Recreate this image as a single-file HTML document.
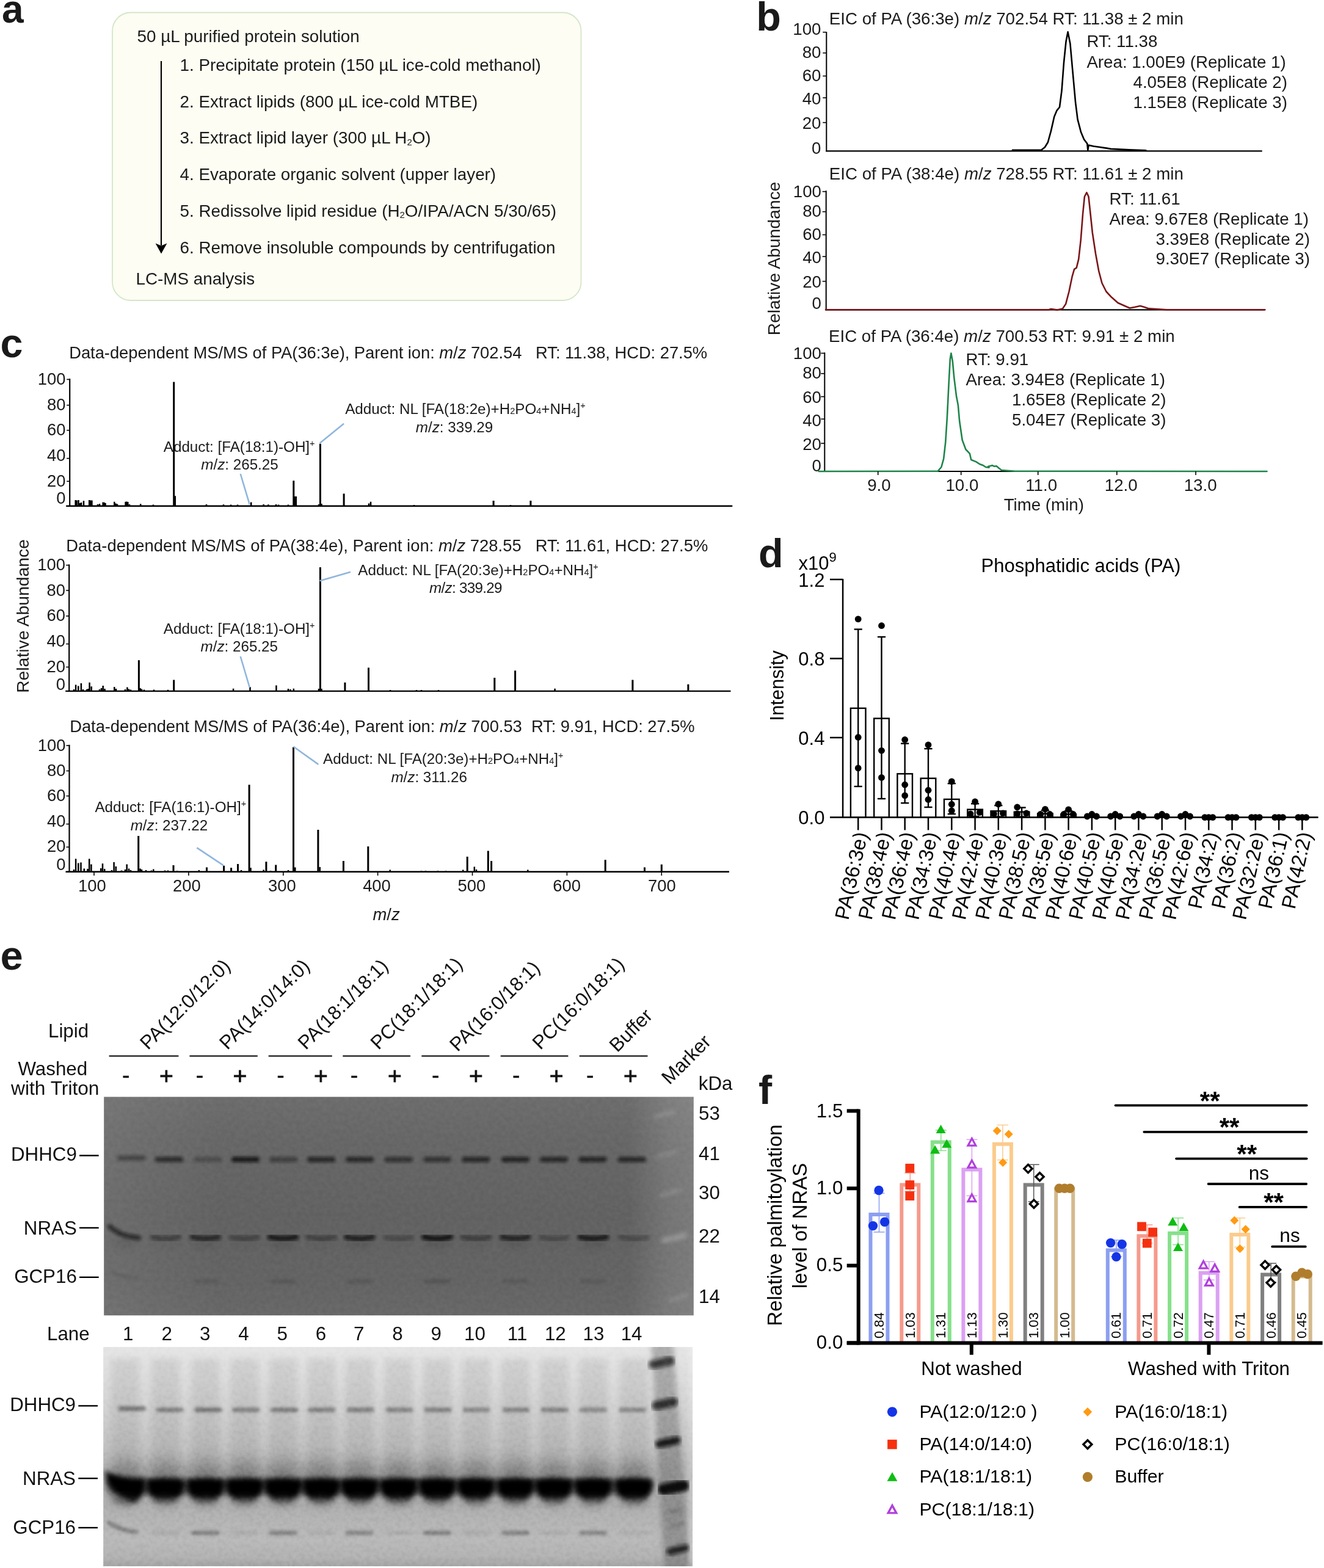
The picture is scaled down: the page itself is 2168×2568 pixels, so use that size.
<!DOCTYPE html>
<html lang="en"><head><meta charset="utf-8"><title>Figure</title>
<style>
html,body{margin:0;padding:0;background:#fff;}
body{width:2168px;height:2568px;overflow:hidden;font-family:"Liberation Sans",sans-serif;}
svg{display:block;}
text{font-family:"Liberation Sans",sans-serif;}
</style></head><body>
<svg width="2168" height="2568" viewBox="0 0 2168 2568">
<rect x="0" y="0" width="2168" height="2568" fill="#ffffff"/>
<text x="3.0" y="36.7" font-size="64" font-weight="bold" fill="#1a1a1a">a</text>
<rect x="184.0" y="20.5" width="767.5" height="471.5" fill="#fdfdf3" stroke="#d3e6c9" stroke-width="1.8" rx="30" ry="30"/>
<text x="224.5" y="69.0" font-size="27.8" fill="#1a1a1a">50 µL purified protein solution</text>
<text x="294.5" y="115.9" font-size="27.8" fill="#1a1a1a">1. Precipitate protein (150 µL ice-cold methanol)</text>
<text x="294.5" y="175.7" font-size="27.8" fill="#1a1a1a">2. Extract lipids (800 µL ice-cold MTBE)</text>
<text x="294.5" y="235.3" font-size="27.8" fill="#1a1a1a">3. Extract lipid layer (300 µL H<tspan font-size="15" dy="2.4">2</tspan><tspan dy="-2.4">O)</tspan></text>
<text x="294.5" y="295.2" font-size="27.8" fill="#1a1a1a">4. Evaporate organic solvent (upper layer)</text>
<text x="294.5" y="355.0" font-size="27.8" fill="#1a1a1a">5. Redissolve lipid residue (H<tspan font-size="15" dy="2.4">2</tspan><tspan dy="-2.4">O/IPA/ACN 5/30/65)</tspan></text>
<text x="294.5" y="414.8" font-size="27.8" fill="#1a1a1a">6. Remove insoluble compounds by centrifugation</text>
<text x="222.5" y="466.3" font-size="27.8" fill="#1a1a1a">LC-MS analysis</text>
<line x1="264.0" y1="100.0" x2="264.0" y2="402.0" stroke="#000" stroke-width="2.2" />
<path d="M254.6 398.5 L264 402.5 L273.4 398.5 L264 415.5 Z" fill="#000"/>
<text x="1238.3" y="50.0" font-size="66.5" font-weight="bold" fill="#1a1a1a">b</text>
<text x="1357.8" y="39.8" font-size="27.7" fill="#1a1a1a">EIC of PA (36:3e) <tspan font-style="italic">m</tspan>/<tspan font-style="italic">z</tspan> 702.54 RT: 11.38 ± 2 min</text>
<line x1="1353.3" y1="52.2" x2="1353.3" y2="248.3" stroke="#000" stroke-width="2" />
<line x1="1352.3" y1="247.3" x2="2066.7" y2="247.3" stroke="#000" stroke-width="2.2" />
<text x="1344.5" y="56.8" font-size="27.7" text-anchor="end" fill="#1a1a1a">100</text>
<text x="1344.5" y="94.6" font-size="27.7" text-anchor="end" fill="#1a1a1a">80</text>
<text x="1344.5" y="132.7" font-size="27.7" text-anchor="end" fill="#1a1a1a">60</text>
<text x="1344.5" y="171.0" font-size="27.7" text-anchor="end" fill="#1a1a1a">40</text>
<text x="1344.5" y="210.9" font-size="27.7" text-anchor="end" fill="#1a1a1a">20</text>
<text x="1344.5" y="251.7" font-size="27.7" text-anchor="end" fill="#1a1a1a">0</text>
<line x1="1347.3" y1="52.7" x2="1353.3" y2="52.7" stroke="#000" stroke-width="1.6" />
<line x1="1347.3" y1="86.7" x2="1353.3" y2="86.7" stroke="#000" stroke-width="1.6" />
<line x1="1347.3" y1="124.5" x2="1353.3" y2="124.5" stroke="#000" stroke-width="1.6" />
<line x1="1347.3" y1="160.2" x2="1353.3" y2="160.2" stroke="#000" stroke-width="1.6" />
<line x1="1347.3" y1="200.7" x2="1353.3" y2="200.7" stroke="#000" stroke-width="1.6" />
<polyline points="1657.9,245.9 1694.2,245.9 1705.4,245.5 1711.0,241.0 1715.9,233.0 1721.0,214.4 1726.3,191.0 1730.6,180.8 1735.0,175.5 1738.5,149.0 1742.0,102.5 1745.5,68.3 1748.6,52.2 1752.4,71.5 1757.7,130.5 1761.1,167.8 1764.6,195.7 1769.9,215.9 1775.0,228.3 1780.3,235.2 1781.3,246.0 1782.6,237.7 1790.5,239.5 1799.4,240.8 1811.8,242.6 1818.8,243.9 1849.9,245.4 1876.3,246.3" fill="none" stroke="#000" stroke-width="2.6" stroke-linejoin="round" stroke-linecap="round" />
<text x="1779.4" y="77.0" font-size="27.7" fill="#1a1a1a">RT: 11.38</text>
<text x="1779.4" y="110.9" font-size="27.7" fill="#1a1a1a">Area: 1.00E9 (Replicate 1)</text>
<text x="1855.5" y="144.1" font-size="27.7" fill="#1a1a1a">4.05E8 (Replicate 2)</text>
<text x="1855.5" y="177.4" font-size="27.7" fill="#1a1a1a">1.15E8 (Replicate 3)</text>
<text x="1357.8" y="294.0" font-size="27.7" fill="#1a1a1a">EIC of PA (38:4e) <tspan font-style="italic">m</tspan>/<tspan font-style="italic">z</tspan> 728.55 RT: 11.61 ± 2 min</text>
<line x1="1352.7" y1="312.2" x2="1352.7" y2="508.3" stroke="#000" stroke-width="2" />
<line x1="1351.7" y1="507.3" x2="2071.0" y2="507.3" stroke="#000" stroke-width="2.2" />
<text x="1345.0" y="323.0" font-size="27.7" text-anchor="end" fill="#1a1a1a">100</text>
<text x="1345.0" y="354.6" font-size="27.7" text-anchor="end" fill="#1a1a1a">80</text>
<text x="1345.0" y="392.7" font-size="27.7" text-anchor="end" fill="#1a1a1a">60</text>
<text x="1345.0" y="431.0" font-size="27.7" text-anchor="end" fill="#1a1a1a">40</text>
<text x="1345.0" y="470.9" font-size="27.7" text-anchor="end" fill="#1a1a1a">20</text>
<text x="1345.0" y="505.6" font-size="27.7" text-anchor="end" fill="#1a1a1a">0</text>
<line x1="1346.7" y1="313.7" x2="1352.7" y2="313.7" stroke="#000" stroke-width="1.6" />
<line x1="1346.7" y1="346.7" x2="1352.7" y2="346.7" stroke="#000" stroke-width="1.6" />
<line x1="1346.7" y1="384.5" x2="1352.7" y2="384.5" stroke="#000" stroke-width="1.6" />
<line x1="1346.7" y1="420.2" x2="1352.7" y2="420.2" stroke="#000" stroke-width="1.6" />
<line x1="1346.7" y1="460.7" x2="1352.7" y2="460.7" stroke="#000" stroke-width="1.6" />
<polyline points="1352.0,507.3 1717.5,507.3 1720.9,506.0 1731.4,507.6 1740.1,505.4 1745.2,497.7 1750.5,477.5 1755.7,452.6 1759.1,440.8 1762.7,438.6 1766.2,424.6 1769.7,393.6 1773.1,350.0 1775.9,322.0 1779.4,315.3 1782.5,322.0 1785.2,347.0 1788.8,381.0 1794.0,415.3 1799.1,443.3 1804.4,463.5 1811.4,477.5 1820.1,486.8 1830.5,496.0 1844.5,502.3 1849.9,504.5 1858.0,503.0 1867.0,501.0 1874.0,503.0 1881.0,505.4 1910.5,507.3 2071.4,507.3" fill="none" stroke="#7a1519" stroke-width="2.6" stroke-linejoin="round" stroke-linecap="round" />
<text x="1816.6" y="334.6" font-size="27.7" fill="#1a1a1a">RT: 11.61</text>
<text x="1816.6" y="367.8" font-size="27.7" fill="#1a1a1a">Area: 9.67E8 (Replicate 1)</text>
<text x="1892.5" y="400.7" font-size="27.7" fill="#1a1a1a">3.39E8 (Replicate 2)</text>
<text x="1892.5" y="433.3" font-size="27.7" fill="#1a1a1a">9.30E7 (Replicate 3)</text>
<text x="1357.0" y="559.8" font-size="27.7" fill="#1a1a1a">EIC of PA (36:4e) <tspan font-style="italic">m</tspan>/<tspan font-style="italic">z</tspan> 700.53 RT: 9.91 ± 2 min</text>
<line x1="1350.3" y1="577.3" x2="1350.3" y2="773.0" stroke="#000" stroke-width="2" />
<line x1="1349.3" y1="772.0" x2="2074.0" y2="772.0" stroke="#000" stroke-width="2.2" />
<text x="1345.0" y="588.0" font-size="27.7" text-anchor="end" fill="#1a1a1a">100</text>
<text x="1345.0" y="620.3" font-size="27.7" text-anchor="end" fill="#1a1a1a">80</text>
<text x="1345.0" y="659.5" font-size="27.7" text-anchor="end" fill="#1a1a1a">60</text>
<text x="1345.0" y="697.6" font-size="27.7" text-anchor="end" fill="#1a1a1a">40</text>
<text x="1345.0" y="736.7" font-size="27.7" text-anchor="end" fill="#1a1a1a">20</text>
<text x="1345.0" y="771.7" font-size="27.7" text-anchor="end" fill="#1a1a1a">0</text>
<line x1="1344.3" y1="578.5" x2="1350.3" y2="578.5" stroke="#000" stroke-width="1.6" />
<line x1="1344.3" y1="611.8" x2="1350.3" y2="611.8" stroke="#000" stroke-width="1.6" />
<line x1="1344.3" y1="649.6" x2="1350.3" y2="649.6" stroke="#000" stroke-width="1.6" />
<line x1="1344.3" y1="686.3" x2="1350.3" y2="686.3" stroke="#000" stroke-width="1.6" />
<line x1="1344.3" y1="726.1" x2="1350.3" y2="726.1" stroke="#000" stroke-width="1.6" />
<polyline points="1340.7,772.0 1535.7,771.7 1541.4,765.0 1545.2,751.3 1548.3,724.0 1550.9,683.3 1553.6,628.8 1555.8,588.0 1557.4,578.5 1559.8,591.4 1562.3,618.6 1566.1,649.3 1568.8,662.9 1571.2,690.0 1575.7,720.7 1581.4,736.0 1587.9,742.8 1590.2,753.0 1598.5,756.4 1604.0,760.0 1610.0,762.2 1614.1,765.0 1619.6,765.6 1618.0,764.0 1624.8,762.2 1628.0,763.8 1631.6,763.2 1636.0,767.0 1640.0,770.0 1662.2,771.7 2074.5,772.0" fill="none" stroke="#1e8449" stroke-width="2.6" stroke-linejoin="round" stroke-linecap="round" />
<text x="1581.6" y="597.6" font-size="27.7" fill="#1a1a1a">RT: 9.91</text>
<text x="1581.6" y="630.5" font-size="27.7" fill="#1a1a1a">Area: 3.94E8 (Replicate 1)</text>
<text x="1657.0" y="663.8" font-size="27.7" fill="#1a1a1a">1.65E8 (Replicate 2)</text>
<text x="1657.0" y="697.0" font-size="27.7" fill="#1a1a1a">5.04E7 (Replicate 3)</text>
<line x1="1437.7" y1="772.0" x2="1437.7" y2="778.0" stroke="#000" stroke-width="1.6" />
<text x="1439.4" y="804.0" font-size="27.7" text-anchor="middle" fill="#1a1a1a">9.0</text>
<line x1="1573.7" y1="772.0" x2="1573.7" y2="778.0" stroke="#000" stroke-width="1.6" />
<text x="1575.4" y="804.0" font-size="27.7" text-anchor="middle" fill="#1a1a1a">10.0</text>
<line x1="1699.7" y1="772.0" x2="1699.7" y2="778.0" stroke="#000" stroke-width="1.6" />
<text x="1705.2" y="804.0" font-size="27.7" text-anchor="middle" fill="#1a1a1a">11.0</text>
<line x1="1828.8" y1="772.0" x2="1828.8" y2="778.0" stroke="#000" stroke-width="1.6" />
<text x="1835.7" y="804.0" font-size="27.7" text-anchor="middle" fill="#1a1a1a">12.0</text>
<line x1="1958.0" y1="772.0" x2="1958.0" y2="778.0" stroke="#000" stroke-width="1.6" />
<text x="1965.6" y="804.0" font-size="27.7" text-anchor="middle" fill="#1a1a1a">13.0</text>
<text x="1709.3" y="836.3" font-size="27.7" text-anchor="middle" fill="#1a1a1a">Time (min)</text>
<text x="1276.8" y="423.5" font-size="28.3" text-anchor="middle" fill="#1a1a1a" transform="rotate(-90 1276.8 423.5)">Relative Abundance</text>
<text x="0.5" y="585.2" font-size="66.5" font-weight="bold" fill="#1a1a1a">c</text>
<text x="113.2" y="587" font-size="27.4" fill="#1a1a1a" xml:space="preserve" textLength="1045" lengthAdjust="spacing">Data-dependent MS/MS of PA(36:3e), Parent ion: <tspan font-style="italic">m</tspan>/<tspan font-style="italic">z</tspan> 702.54   RT: 11.38, HCD: 27.5%</text>
<line x1="114.2" y1="620.2" x2="114.2" y2="829.8" stroke="#000" stroke-width="2.2" />
<line x1="108.2" y1="828.8" x2="1199.3" y2="828.8" stroke="#000" stroke-width="2.4" />
<text x="107.5" y="630.2" font-size="27.4" text-anchor="end" fill="#1a1a1a">100</text>
<text x="107.5" y="671.7" font-size="27.4" text-anchor="end" fill="#1a1a1a">80</text>
<text x="107.5" y="712.8" font-size="27.4" text-anchor="end" fill="#1a1a1a">60</text>
<text x="107.5" y="755.0" font-size="27.4" text-anchor="end" fill="#1a1a1a">40</text>
<text x="107.5" y="797.1" font-size="27.4" text-anchor="end" fill="#1a1a1a">20</text>
<text x="107.5" y="825.3" font-size="27.4" text-anchor="end" fill="#1a1a1a">0</text>
<line x1="109.2" y1="621.4" x2="114.2" y2="621.4" stroke="#000" stroke-width="1.6" />
<line x1="109.2" y1="663.6" x2="114.2" y2="663.6" stroke="#000" stroke-width="1.6" />
<line x1="109.2" y1="704.7" x2="114.2" y2="704.7" stroke="#000" stroke-width="1.6" />
<line x1="109.2" y1="750.7" x2="114.2" y2="750.7" stroke="#000" stroke-width="1.6" />
<line x1="109.2" y1="788.3" x2="114.2" y2="788.3" stroke="#000" stroke-width="1.6" />
<path d="M284.7 828.8V625.6M480.8 828.8V787.3M524.4 828.8V726.8M563.1 828.8V808.4M808.1 828.8V820.0M868.9 828.8V820.0" stroke="#000" stroke-width="3.0" fill="none"/>
<path d="M286.8 828.8V812.2M483.2 828.8V813.0M484.8 828.8V813.0M123.7 828.8V819.0M125.5 828.8V819.5M128.5 828.8V819.0M131.0 828.8V824.0M133.0 828.8V823.0M137.0 828.8V820.3M146.2 828.8V819.0M148.5 828.8V819.5M150.4 828.8V819.5M160.0 828.8V826.0M163.0 828.8V825.0M168.7 828.8V822.4M171.0 828.8V823.0M172.5 828.8V824.0M187.3 828.8V821.7M189.5 828.8V824.5M192.0 828.8V825.5M205.6 828.8V821.7M207.5 828.8V821.5M209.3 828.8V822.0M212.0 828.8V826.0M230.2 828.8V825.2M251.0 828.8V826.5M338.0 828.8V826.0M366.0 828.8V826.3M378.0 828.8V826.5M389.0 828.8V826.5M411.2 828.8V822.4M431.6 828.8V826.0M439.4 828.8V826.3M452.0 828.8V826.0M456.0 828.8V826.5M472.0 828.8V826.5M522.0 828.8V826.0M526.5 828.8V825.0M604.0 828.8V824.5M607.0 828.8V821.7M678.0 828.8V827.0M836.0 828.8V827.0" stroke="#000" stroke-width="2.5" fill="none"/>
<line x1="393.7" y1="776.0" x2="408.8" y2="826.3" stroke="#8fb6dc" stroke-width="2.6" />
<line x1="523.7" y1="725.8" x2="563.1" y2="693.8" stroke="#8fb6dc" stroke-width="2.6" />
<text x="267.8" y="739.8" font-size="24.2" fill="#1a1a1a">Adduct: [FA(18:1)-OH]<tspan font-size="14.5" dy="-9">+</tspan></text>
<text x="329.3" y="769.0" font-size="24.2" fill="#1a1a1a"><tspan font-style="italic">m</tspan>/<tspan font-style="italic">z</tspan>: 265.25</text>
<text x="565.2" y="677.6" font-size="24.2" fill="#1a1a1a">Adduct: NL [FA(18:2e)+H<tspan font-size="14.5">2</tspan>PO<tspan font-size="14.5">4</tspan>+NH<tspan font-size="14.5">4</tspan>]<tspan font-size="14.5" dy="-9">+</tspan></text>
<text x="680.8" y="707.5" font-size="24.2" fill="#1a1a1a"><tspan font-style="italic">m</tspan>/<tspan font-style="italic">z</tspan>: 339.29</text>
<text x="108.3" y="902.7" font-size="27.4" fill="#1a1a1a" xml:space="preserve" textLength="1051" lengthAdjust="spacing">Data-dependent MS/MS of PA(38:4e), Parent ion: <tspan font-style="italic">m</tspan>/<tspan font-style="italic">z</tspan> 728.55   RT: 11.61, HCD: 27.5%</text>
<line x1="113.2" y1="924.4" x2="113.2" y2="1132.9" stroke="#000" stroke-width="2.2" />
<line x1="107.2" y1="1131.9" x2="1196.5" y2="1131.9" stroke="#000" stroke-width="2.4" />
<text x="107.0" y="934.4" font-size="27.4" text-anchor="end" fill="#1a1a1a">100</text>
<text x="107.0" y="975.5" font-size="27.4" text-anchor="end" fill="#1a1a1a">80</text>
<text x="107.0" y="1017.0" font-size="27.4" text-anchor="end" fill="#1a1a1a">60</text>
<text x="107.0" y="1059.1" font-size="27.4" text-anchor="end" fill="#1a1a1a">40</text>
<text x="107.0" y="1100.6" font-size="27.4" text-anchor="end" fill="#1a1a1a">20</text>
<text x="107.0" y="1129.8" font-size="27.4" text-anchor="end" fill="#1a1a1a">0</text>
<line x1="108.2" y1="925.6" x2="113.2" y2="925.6" stroke="#000" stroke-width="1.6" />
<line x1="108.2" y1="967.0" x2="113.2" y2="967.0" stroke="#000" stroke-width="1.6" />
<line x1="108.2" y1="1008.9" x2="113.2" y2="1008.9" stroke="#000" stroke-width="1.6" />
<line x1="108.2" y1="1054.6" x2="113.2" y2="1054.6" stroke="#000" stroke-width="1.6" />
<line x1="108.2" y1="1092.5" x2="113.2" y2="1092.5" stroke="#000" stroke-width="1.6" />
<path d="M227.4 1131.9V1081.3M284.7 1131.9V1113.6M524.4 1131.9V929.1M564.9 1131.9V1117.8M603.5 1131.9V1093.6M809.8 1131.9V1110.1M843.6 1131.9V1098.2M1035.9 1131.9V1113.6M1126.9 1131.9V1120.7" stroke="#000" stroke-width="3.0" fill="none"/>
<path d="M124.1 1131.9V1121.4M128.3 1131.9V1123.5M132.9 1131.9V1118.9M121.0 1131.9V1129.0M136.0 1131.9V1129.0M142.0 1131.9V1129.0M144.5 1131.9V1128.0M146.6 1131.9V1117.8M149.7 1131.9V1124.2M163.0 1131.9V1129.0M166.0 1131.9V1127.0M168.7 1131.9V1123.1M171.5 1131.9V1128.0M187.3 1131.9V1124.9M190.0 1131.9V1128.0M205.0 1131.9V1129.0M208.4 1131.9V1125.6M211.0 1131.9V1128.5M214.0 1131.9V1129.5M229.5 1131.9V1127.0M232.0 1131.9V1128.5M236.0 1131.9V1129.5M252.0 1131.9V1129.5M275.0 1131.9V1129.7M382.1 1131.9V1127.7M409.5 1131.9V1124.9M452.4 1131.9V1122.4M472.0 1131.9V1128.0M475.5 1131.9V1129.0M480.8 1131.9V1127.7M522.0 1131.9V1128.0M526.5 1131.9V1128.0M908.6 1131.9V1127.7M639.0 1131.9V1130.0M682.0 1131.9V1130.0M690.0 1131.9V1130.0M718.0 1131.9V1130.0" stroke="#000" stroke-width="2.5" fill="none"/>
<line x1="393.7" y1="1075.0" x2="408.8" y2="1126.0" stroke="#8fb6dc" stroke-width="2.6" />
<line x1="523.7" y1="951.2" x2="574.0" y2="936.8" stroke="#8fb6dc" stroke-width="2.6" />
<text x="267.8" y="1038.0" font-size="24.2" fill="#1a1a1a">Adduct: [FA(18:1)-OH]<tspan font-size="14.5" dy="-9">+</tspan></text>
<text x="328.6" y="1067.2" font-size="24.2" fill="#1a1a1a"><tspan font-style="italic">m</tspan>/<tspan font-style="italic">z</tspan>: 265.25</text>
<text x="586.3" y="942.0" font-size="24.2" fill="#1a1a1a">Adduct: NL [FA(20:3e)+H<tspan font-size="14.5">2</tspan>PO<tspan font-size="14.5">4</tspan>+NH<tspan font-size="14.5">4</tspan>]<tspan font-size="14.5" dy="-9">+</tspan></text>
<text x="703.0" y="971.3" font-size="24.2" fill="#1a1a1a" letter-spacing="-0.7"><tspan font-style="italic">m</tspan>/<tspan font-style="italic">z</tspan>: 339.29</text>
<text x="46.7" y="1009.0" font-size="28.3" text-anchor="middle" fill="#1a1a1a" transform="rotate(-90 46.7 1009.0)">Relative Abundance</text>
<text x="114.2" y="1199.2" font-size="27.4" fill="#1a1a1a" xml:space="preserve" textLength="1023.5" lengthAdjust="spacing">Data-dependent MS/MS of PA(36:4e), Parent ion: <tspan font-style="italic">m</tspan>/<tspan font-style="italic">z</tspan> 700.53  RT: 9.91, HCD: 27.5%</text>
<line x1="113.5" y1="1219.8" x2="113.5" y2="1428.7" stroke="#000" stroke-width="2.2" />
<line x1="107.5" y1="1427.7" x2="1194.0" y2="1427.7" stroke="#000" stroke-width="2.4" />
<text x="107.5" y="1229.8" font-size="27.4" text-anchor="end" fill="#1a1a1a">100</text>
<text x="107.5" y="1270.6" font-size="27.4" text-anchor="end" fill="#1a1a1a">80</text>
<text x="107.5" y="1312.4" font-size="27.4" text-anchor="end" fill="#1a1a1a">60</text>
<text x="107.5" y="1353.9" font-size="27.4" text-anchor="end" fill="#1a1a1a">40</text>
<text x="107.5" y="1395.3" font-size="27.4" text-anchor="end" fill="#1a1a1a">20</text>
<text x="107.5" y="1424.9" font-size="27.4" text-anchor="end" fill="#1a1a1a">0</text>
<line x1="108.5" y1="1221.0" x2="113.5" y2="1221.0" stroke="#000" stroke-width="1.6" />
<line x1="108.5" y1="1262.5" x2="113.5" y2="1262.5" stroke="#000" stroke-width="1.6" />
<line x1="108.5" y1="1303.6" x2="113.5" y2="1303.6" stroke="#000" stroke-width="1.6" />
<line x1="108.5" y1="1349.6" x2="113.5" y2="1349.6" stroke="#000" stroke-width="1.6" />
<line x1="108.5" y1="1387.3" x2="113.5" y2="1387.3" stroke="#000" stroke-width="1.6" />
<path d="M480.5 1427.7V1223.8M408.1 1427.7V1285.3M226.7 1427.7V1369.0M520.9 1427.7V1359.1M602.8 1427.7V1386.2M562.4 1427.7V1410.1M435.9 1427.7V1411.2M451.7 1427.7V1416.4M389.5 1427.7V1415.0M378.6 1427.7V1421.3M366.6 1427.7V1417.8M338.5 1427.7V1420.6M284.0 1427.7V1417.1M765.2 1427.7V1403.1M799.3 1427.7V1393.6M804.6 1427.7V1410.1M991.2 1427.7V1408.3M1055.5 1427.7V1420.6M1083.3 1427.7V1415.7" stroke="#000" stroke-width="3.0" fill="none"/>
<path d="M523.7 1427.7V1420.0M121.0 1427.7V1424.0M124.1 1427.7V1406.6M128.3 1427.7V1413.6M132.5 1427.7V1412.6M137.8 1427.7V1422.5M143.5 1427.7V1423.0M146.2 1427.7V1406.6M149.4 1427.7V1415.4M165.2 1427.7V1422.0M168.0 1427.7V1414.3M171.2 1427.7V1423.0M183.0 1427.7V1425.0M186.6 1427.7V1411.9M189.8 1427.7V1418.9M199.0 1427.7V1425.5M205.0 1427.7V1424.0M207.7 1427.7V1415.4M211.0 1427.7V1422.5M214.0 1427.7V1425.0M229.5 1427.7V1422.5M232.0 1427.7V1424.0M239.0 1427.7V1425.0M248.0 1427.7V1425.5M251.3 1427.7V1423.5M270.0 1427.7V1425.5M275.0 1427.7V1425.5M290.0 1427.7V1426.0M325.8 1427.7V1424.9M395.0 1427.7V1425.0M410.5 1427.7V1421.3M431.6 1427.7V1424.5M443.0 1427.7V1426.0M472.0 1427.7V1425.0M483.3 1427.7V1420.6M638.7 1427.7V1424.5M758.2 1427.7V1424.5M776.8 1427.7V1419.6M780.0 1427.7V1424.0M864.3 1427.7V1424.5M690.0 1427.7V1426.3M697.0 1427.7V1426.0M717.0 1427.7V1426.0M730.0 1427.7V1426.3" stroke="#000" stroke-width="2.5" fill="none"/>
<line x1="322.3" y1="1388.3" x2="365.6" y2="1417.1" stroke="#8fb6dc" stroke-width="2.6" />
<line x1="480.5" y1="1222.8" x2="521.3" y2="1251.9" stroke="#8fb6dc" stroke-width="2.6" />
<text x="155.4" y="1330.3" font-size="24.2" fill="#1a1a1a">Adduct: [FA(16:1)-OH]<tspan font-size="14.5" dy="-9">+</tspan></text>
<text x="213.7" y="1359.8" font-size="24.2" fill="#1a1a1a"><tspan font-style="italic">m</tspan>/<tspan font-style="italic">z</tspan>: 237.22</text>
<text x="529.0" y="1250.9" font-size="24.2" fill="#1a1a1a">Adduct: NL [FA(20:3e)+H<tspan font-size="14.5">2</tspan>PO<tspan font-size="14.5">4</tspan>+NH<tspan font-size="14.5">4</tspan>]<tspan font-size="14.5" dy="-9">+</tspan></text>
<text x="640.4" y="1280.8" font-size="24.2" fill="#1a1a1a"><tspan font-style="italic">m</tspan>/<tspan font-style="italic">z</tspan>: 311.26</text>
<line x1="154.0" y1="1427.7" x2="154.0" y2="1434.0" stroke="#000" stroke-width="1.6" />
<text x="150.8" y="1460.4" font-size="27.4" text-anchor="middle" fill="#1a1a1a">100</text>
<line x1="308.9" y1="1427.7" x2="308.9" y2="1434.0" stroke="#000" stroke-width="1.6" />
<text x="305.8" y="1460.4" font-size="27.4" text-anchor="middle" fill="#1a1a1a">200</text>
<line x1="463.8" y1="1427.7" x2="463.8" y2="1434.0" stroke="#000" stroke-width="1.6" />
<text x="461.9" y="1460.4" font-size="27.4" text-anchor="middle" fill="#1a1a1a">300</text>
<line x1="618.6" y1="1427.7" x2="618.6" y2="1434.0" stroke="#000" stroke-width="1.6" />
<text x="617.0" y="1460.4" font-size="27.4" text-anchor="middle" fill="#1a1a1a">400</text>
<line x1="773.5" y1="1427.7" x2="773.5" y2="1434.0" stroke="#000" stroke-width="1.6" />
<text x="772.4" y="1460.4" font-size="27.4" text-anchor="middle" fill="#1a1a1a">500</text>
<line x1="928.4" y1="1427.7" x2="928.4" y2="1434.0" stroke="#000" stroke-width="1.6" />
<text x="928.1" y="1460.4" font-size="27.4" text-anchor="middle" fill="#1a1a1a">600</text>
<line x1="1083.3" y1="1427.7" x2="1083.3" y2="1434.0" stroke="#000" stroke-width="1.6" />
<text x="1083.8" y="1460.4" font-size="27.4" text-anchor="middle" fill="#1a1a1a">700</text>
<text x="610.5" y="1506.8" font-size="27.4" fill="#1a1a1a"><tspan font-style="italic">m</tspan>/<tspan font-style="italic">z</tspan></text>
<text x="1242.0" y="928.6" font-size="66.5" font-weight="bold" fill="#1a1a1a">d</text>
<text x="1307.5" y="932.8" font-size="31" fill="#000">x10<tspan font-size="22" dy="-13">9</tspan></text>
<text x="1606.5" y="937.4" font-size="31" fill="#000">Phosphatidic acids (PA)</text>
<text x="1283.0" y="1123.0" font-size="31" text-anchor="middle" fill="#000" transform="rotate(-90 1283.0 1123.0)">Intensity</text>
<line x1="1380.1" y1="948.0" x2="1380.1" y2="1339.6" stroke="#000" stroke-width="2.5" />
<line x1="1359.0" y1="1338.6" x2="2158.4" y2="1338.6" stroke="#000" stroke-width="2.4" />
<line x1="1359.0" y1="949.0" x2="1380.1" y2="949.0" stroke="#000" stroke-width="2.5" />
<text x="1350.4" y="960.6" font-size="31" text-anchor="end" fill="#000">1.2</text>
<line x1="1359.0" y1="1078.5" x2="1380.1" y2="1078.5" stroke="#000" stroke-width="2.5" />
<text x="1350.4" y="1090.4" font-size="31" text-anchor="end" fill="#000">0.8</text>
<line x1="1359.0" y1="1208.0" x2="1380.1" y2="1208.0" stroke="#000" stroke-width="2.5" />
<text x="1350.4" y="1220.0" font-size="31" text-anchor="end" fill="#000">0.4</text>
<text x="1350.4" y="1349.8" font-size="31" text-anchor="end" fill="#000">0.0</text>
<line x1="1405.2" y1="1338.6" x2="1405.2" y2="1359.5" stroke="#000" stroke-width="2.5" />
<rect x="1392.9" y="1159.9" width="24.6" height="178.7" fill="#fff" stroke="#000" stroke-width="2.4" />
<line x1="1405.2" y1="1030.6" x2="1405.2" y2="1288.0" stroke="#000" stroke-width="2.4" />
<line x1="1398.6" y1="1030.6" x2="1411.8" y2="1030.6" stroke="#000" stroke-width="2.4" />
<line x1="1398.6" y1="1288.0" x2="1411.8" y2="1288.0" stroke="#000" stroke-width="2.4" />
<circle cx="1405.2" cy="1013.9" r="5.4" fill="#000"/>
<circle cx="1405.2" cy="1207.5" r="5.4" fill="#000"/>
<circle cx="1405.2" cy="1258.0" r="5.4" fill="#000"/>
<text x="1421.2" y="1365.5" font-size="33" text-anchor="end" fill="#000" transform="rotate(-77.3 1421.2 1365.5)">PA(36:3e)</text>
<line x1="1443.5" y1="1338.6" x2="1443.5" y2="1359.5" stroke="#000" stroke-width="2.5" />
<rect x="1431.2" y="1176.6" width="24.6" height="162.0" fill="#fff" stroke="#000" stroke-width="2.4" />
<line x1="1443.5" y1="1043.1" x2="1443.5" y2="1308.1" stroke="#000" stroke-width="2.4" />
<line x1="1436.9" y1="1043.1" x2="1450.1" y2="1043.1" stroke="#000" stroke-width="2.4" />
<line x1="1436.9" y1="1308.1" x2="1450.1" y2="1308.1" stroke="#000" stroke-width="2.4" />
<circle cx="1443.5" cy="1024.7" r="5.4" fill="#000"/>
<circle cx="1443.5" cy="1229.3" r="5.4" fill="#000"/>
<circle cx="1443.5" cy="1273.5" r="5.4" fill="#000"/>
<text x="1459.5" y="1365.5" font-size="33" text-anchor="end" fill="#000" transform="rotate(-77.3 1459.5 1365.5)">PA(38:4e)</text>
<line x1="1481.7" y1="1338.6" x2="1481.7" y2="1359.5" stroke="#000" stroke-width="2.5" />
<rect x="1469.4" y="1267.3" width="24.6" height="71.3" fill="#fff" stroke="#000" stroke-width="2.4" />
<line x1="1481.7" y1="1217.7" x2="1481.7" y2="1315.2" stroke="#000" stroke-width="2.4" />
<line x1="1475.1" y1="1217.7" x2="1488.3" y2="1217.7" stroke="#000" stroke-width="2.4" />
<line x1="1475.1" y1="1315.2" x2="1488.3" y2="1315.2" stroke="#000" stroke-width="2.4" />
<circle cx="1481.7" cy="1211.5" r="5.4" fill="#000"/>
<circle cx="1481.7" cy="1285.2" r="5.4" fill="#000"/>
<circle cx="1481.7" cy="1303.0" r="5.4" fill="#000"/>
<text x="1497.7" y="1365.5" font-size="33" text-anchor="end" fill="#000" transform="rotate(-77.3 1497.7 1365.5)">PA(36:4e)</text>
<line x1="1520.0" y1="1338.6" x2="1520.0" y2="1359.5" stroke="#000" stroke-width="2.5" />
<rect x="1507.7" y="1274.7" width="24.6" height="63.9" fill="#fff" stroke="#000" stroke-width="2.4" />
<line x1="1520.0" y1="1226.2" x2="1520.0" y2="1322.0" stroke="#000" stroke-width="2.4" />
<line x1="1513.4" y1="1226.2" x2="1526.6" y2="1226.2" stroke="#000" stroke-width="2.4" />
<line x1="1513.4" y1="1322.0" x2="1526.6" y2="1322.0" stroke="#000" stroke-width="2.4" />
<circle cx="1520.0" cy="1220.0" r="5.4" fill="#000"/>
<circle cx="1520.0" cy="1294.2" r="5.4" fill="#000"/>
<circle cx="1520.0" cy="1309.5" r="5.4" fill="#000"/>
<text x="1536.0" y="1365.5" font-size="33" text-anchor="end" fill="#000" transform="rotate(-77.3 1536.0 1365.5)">PA(34:3e)</text>
<line x1="1558.3" y1="1338.6" x2="1558.3" y2="1359.5" stroke="#000" stroke-width="2.5" />
<rect x="1546.0" y="1309.0" width="24.6" height="29.6" fill="#fff" stroke="#000" stroke-width="2.4" />
<line x1="1558.3" y1="1283.2" x2="1558.3" y2="1333.1" stroke="#000" stroke-width="2.4" />
<line x1="1551.7" y1="1283.2" x2="1564.9" y2="1283.2" stroke="#000" stroke-width="2.4" />
<line x1="1551.7" y1="1333.1" x2="1564.9" y2="1333.1" stroke="#000" stroke-width="2.4" />
<circle cx="1558.3" cy="1279.8" r="5.4" fill="#000"/>
<circle cx="1558.3" cy="1317.2" r="5.4" fill="#000"/>
<circle cx="1558.3" cy="1327.7" r="5.4" fill="#000"/>
<text x="1574.3" y="1365.5" font-size="33" text-anchor="end" fill="#000" transform="rotate(-77.3 1574.3 1365.5)">PA(40:4e)</text>
<line x1="1596.6" y1="1338.6" x2="1596.6" y2="1359.5" stroke="#000" stroke-width="2.5" />
<rect x="1584.3" y="1325.7" width="24.6" height="12.9" fill="#fff" stroke="#000" stroke-width="2.4" />
<line x1="1596.6" y1="1316.3" x2="1596.6" y2="1337.0" stroke="#000" stroke-width="2.4" />
<line x1="1590.0" y1="1316.3" x2="1603.2" y2="1316.3" stroke="#000" stroke-width="2.4" />
<line x1="1590.0" y1="1337.0" x2="1603.2" y2="1337.0" stroke="#000" stroke-width="2.4" />
<circle cx="1596.6" cy="1313.0" r="5.4" fill="#000"/>
<circle cx="1589.0" cy="1332.8" r="5.4" fill="#000"/>
<circle cx="1604.2" cy="1330.5" r="5.4" fill="#000"/>
<text x="1612.6" y="1365.5" font-size="33" text-anchor="end" fill="#000" transform="rotate(-77.3 1612.6 1365.5)">PA(42:4e)</text>
<line x1="1634.8" y1="1338.6" x2="1634.8" y2="1359.5" stroke="#000" stroke-width="2.5" />
<rect x="1622.5" y="1328.3" width="24.6" height="10.3" fill="#fff" stroke="#000" stroke-width="2.4" />
<line x1="1634.8" y1="1319.2" x2="1634.8" y2="1337.5" stroke="#000" stroke-width="2.4" />
<line x1="1628.2" y1="1319.2" x2="1641.4" y2="1319.2" stroke="#000" stroke-width="2.4" />
<line x1="1628.2" y1="1337.5" x2="1641.4" y2="1337.5" stroke="#000" stroke-width="2.4" />
<circle cx="1634.8" cy="1317.0" r="5.4" fill="#000"/>
<circle cx="1627.4" cy="1332.8" r="5.4" fill="#000"/>
<circle cx="1642.4" cy="1332.0" r="5.4" fill="#000"/>
<text x="1650.8" y="1365.5" font-size="33" text-anchor="end" fill="#000" transform="rotate(-77.3 1650.8 1365.5)">PA(40:3e)</text>
<line x1="1673.1" y1="1338.6" x2="1673.1" y2="1359.5" stroke="#000" stroke-width="2.5" />
<rect x="1660.8" y="1329.7" width="24.6" height="8.9" fill="#fff" stroke="#000" stroke-width="2.4" />
<line x1="1673.1" y1="1322.6" x2="1673.1" y2="1337.5" stroke="#000" stroke-width="2.4" />
<line x1="1666.5" y1="1322.6" x2="1679.7" y2="1322.6" stroke="#000" stroke-width="2.4" />
<line x1="1666.5" y1="1337.5" x2="1679.7" y2="1337.5" stroke="#000" stroke-width="2.4" />
<circle cx="1665.7" cy="1322.0" r="5.4" fill="#000"/>
<circle cx="1665.7" cy="1332.8" r="5.4" fill="#000"/>
<circle cx="1680.7" cy="1332.0" r="5.4" fill="#000"/>
<text x="1689.1" y="1365.5" font-size="33" text-anchor="end" fill="#000" transform="rotate(-77.3 1689.1 1365.5)">PA(38:5e)</text>
<line x1="1711.4" y1="1338.6" x2="1711.4" y2="1359.5" stroke="#000" stroke-width="2.5" />
<rect x="1699.1" y="1332.5" width="24.6" height="6.1" fill="#fff" stroke="#000" stroke-width="2.4" />
<line x1="1711.4" y1="1327.0" x2="1711.4" y2="1338.0" stroke="#000" stroke-width="2.4" />
<line x1="1704.8" y1="1327.0" x2="1718.0" y2="1327.0" stroke="#000" stroke-width="2.4" />
<line x1="1704.8" y1="1338.0" x2="1718.0" y2="1338.0" stroke="#000" stroke-width="2.4" />
<circle cx="1711.4" cy="1325.3" r="5.4" fill="#000"/>
<circle cx="1703.8" cy="1333.5" r="5.4" fill="#000"/>
<circle cx="1719.0" cy="1333.5" r="5.4" fill="#000"/>
<text x="1727.4" y="1365.5" font-size="33" text-anchor="end" fill="#000" transform="rotate(-77.3 1727.4 1365.5)">PA(38:5e)</text>
<line x1="1749.6" y1="1338.6" x2="1749.6" y2="1359.5" stroke="#000" stroke-width="2.5" />
<rect x="1737.3" y="1333.5" width="24.6" height="5.1" fill="#fff" stroke="#000" stroke-width="2.4" />
<line x1="1749.6" y1="1328.0" x2="1749.6" y2="1338.0" stroke="#000" stroke-width="2.4" />
<line x1="1743.0" y1="1328.0" x2="1756.2" y2="1328.0" stroke="#000" stroke-width="2.4" />
<line x1="1743.0" y1="1338.0" x2="1756.2" y2="1338.0" stroke="#000" stroke-width="2.4" />
<circle cx="1749.6" cy="1325.8" r="5.4" fill="#000"/>
<circle cx="1742.0" cy="1333.5" r="5.4" fill="#000"/>
<circle cx="1757.2" cy="1333.5" r="5.4" fill="#000"/>
<text x="1765.6" y="1365.5" font-size="33" text-anchor="end" fill="#000" transform="rotate(-77.3 1765.6 1365.5)">PA(40:6e)</text>
<line x1="1787.9" y1="1338.6" x2="1787.9" y2="1359.5" stroke="#000" stroke-width="2.5" />
<circle cx="1787.9" cy="1333.5" r="5.4" fill="#000"/>
<circle cx="1780.3" cy="1337.0" r="5.4" fill="#000"/>
<circle cx="1795.5" cy="1337.0" r="5.4" fill="#000"/>
<text x="1803.9" y="1365.5" font-size="33" text-anchor="end" fill="#000" transform="rotate(-77.3 1803.9 1365.5)">PA(40:5e)</text>
<line x1="1826.2" y1="1338.6" x2="1826.2" y2="1359.5" stroke="#000" stroke-width="2.5" />
<circle cx="1826.2" cy="1333.5" r="5.4" fill="#000"/>
<circle cx="1818.6" cy="1337.0" r="5.4" fill="#000"/>
<circle cx="1833.8" cy="1337.0" r="5.4" fill="#000"/>
<text x="1842.2" y="1365.5" font-size="33" text-anchor="end" fill="#000" transform="rotate(-77.3 1842.2 1365.5)">PA(40:5e)</text>
<line x1="1864.4" y1="1338.6" x2="1864.4" y2="1359.5" stroke="#000" stroke-width="2.5" />
<circle cx="1864.4" cy="1333.5" r="5.4" fill="#000"/>
<circle cx="1856.8" cy="1337.0" r="5.4" fill="#000"/>
<circle cx="1872.0" cy="1337.0" r="5.4" fill="#000"/>
<text x="1880.4" y="1365.5" font-size="33" text-anchor="end" fill="#000" transform="rotate(-77.3 1880.4 1365.5)">PA(34:2e)</text>
<line x1="1902.7" y1="1338.6" x2="1902.7" y2="1359.5" stroke="#000" stroke-width="2.5" />
<circle cx="1902.7" cy="1333.5" r="5.4" fill="#000"/>
<circle cx="1895.1" cy="1337.0" r="5.4" fill="#000"/>
<circle cx="1910.3" cy="1337.0" r="5.4" fill="#000"/>
<text x="1918.7" y="1365.5" font-size="33" text-anchor="end" fill="#000" transform="rotate(-77.3 1918.7 1365.5)">PA(36:5e)</text>
<line x1="1941.0" y1="1338.6" x2="1941.0" y2="1359.5" stroke="#000" stroke-width="2.5" />
<circle cx="1941.0" cy="1333.5" r="5.4" fill="#000"/>
<circle cx="1933.4" cy="1337.0" r="5.4" fill="#000"/>
<circle cx="1948.6" cy="1337.0" r="5.4" fill="#000"/>
<text x="1957.0" y="1365.5" font-size="33" text-anchor="end" fill="#000" transform="rotate(-77.3 1957.0 1365.5)">PA(42:6e)</text>
<line x1="1979.2" y1="1338.6" x2="1979.2" y2="1359.5" stroke="#000" stroke-width="2.5" />
<circle cx="1972.8" cy="1338.6" r="5.4" fill="#000"/>
<circle cx="1979.2" cy="1338.6" r="5.4" fill="#000"/>
<circle cx="1985.8" cy="1338.6" r="5.4" fill="#000"/>
<text x="1995.2" y="1365.5" font-size="33" text-anchor="end" fill="#000" transform="rotate(-77.3 1995.2 1365.5)">PA(34:2)</text>
<line x1="2017.5" y1="1338.6" x2="2017.5" y2="1359.5" stroke="#000" stroke-width="2.5" />
<circle cx="2011.0" cy="1338.6" r="5.4" fill="#000"/>
<circle cx="2017.5" cy="1338.6" r="5.4" fill="#000"/>
<circle cx="2024.0" cy="1338.6" r="5.4" fill="#000"/>
<text x="2033.5" y="1365.5" font-size="33" text-anchor="end" fill="#000" transform="rotate(-77.3 2033.5 1365.5)">PA(36:2)</text>
<line x1="2055.8" y1="1338.6" x2="2055.8" y2="1359.5" stroke="#000" stroke-width="2.5" />
<circle cx="2049.3" cy="1338.6" r="5.4" fill="#000"/>
<circle cx="2055.8" cy="1338.6" r="5.4" fill="#000"/>
<circle cx="2062.3" cy="1338.6" r="5.4" fill="#000"/>
<text x="2071.8" y="1365.5" font-size="33" text-anchor="end" fill="#000" transform="rotate(-77.3 2071.8 1365.5)">PA(32:2e)</text>
<line x1="2094.1" y1="1338.6" x2="2094.1" y2="1359.5" stroke="#000" stroke-width="2.5" />
<circle cx="2087.6" cy="1338.6" r="5.4" fill="#000"/>
<circle cx="2094.1" cy="1338.6" r="5.4" fill="#000"/>
<circle cx="2100.6" cy="1338.6" r="5.4" fill="#000"/>
<text x="2110.1" y="1365.5" font-size="33" text-anchor="end" fill="#000" transform="rotate(-77.3 2110.1 1365.5)">PA(36:1)</text>
<line x1="2132.3" y1="1338.6" x2="2132.3" y2="1359.5" stroke="#000" stroke-width="2.5" />
<circle cx="2125.8" cy="1338.6" r="5.4" fill="#000"/>
<circle cx="2132.3" cy="1338.6" r="5.4" fill="#000"/>
<circle cx="2138.8" cy="1338.6" r="5.4" fill="#000"/>
<text x="2148.3" y="1365.5" font-size="33" text-anchor="end" fill="#000" transform="rotate(-77.3 2148.3 1365.5)">PA(42:2)</text>
<line x1="1359.0" y1="1338.6" x2="2158.4" y2="1338.6" stroke="#000" stroke-width="2.4" />
<text x="0.5" y="1587.5" font-size="67" font-weight="bold" fill="#1a1a1a">e</text>
<text x="79.0" y="1699.2" font-size="31.3" fill="#111">Lipid</text>
<text x="86.3" y="1760.7" font-size="31.3" text-anchor="middle" fill="#111">Washed</text>
<text x="90.3" y="1792.8" font-size="31.7" text-anchor="middle" fill="#111">with Triton</text>
<text x="242.3" y="1720.6" font-size="31.7" fill="#111" transform="rotate(-45 242.3 1720.6)">PA(12:0/12:0)</text>
<text x="372.3" y="1720.6" font-size="31.7" fill="#111" transform="rotate(-45 372.3 1720.6)">PA(14:0/14:0)</text>
<text x="500.8" y="1720.6" font-size="31.7" fill="#111" transform="rotate(-45 500.8 1720.6)">PA(18:1/18:1)</text>
<text x="619.8" y="1720.6" font-size="31.7" fill="#111" transform="rotate(-45 619.8 1720.6)">PC(18:1/18:1)</text>
<text x="749.3" y="1723.6" font-size="31.7" fill="#111" transform="rotate(-45 749.3 1723.6)">PA(16:0/18:1)</text>
<text x="884.8" y="1720.6" font-size="31.7" fill="#111" transform="rotate(-45 884.8 1720.6)">PC(16:0/18:1)</text>
<text x="1010.8" y="1724.6" font-size="31.7" fill="#111" transform="rotate(-45 1010.8 1724.6)">Buffer</text>
<text x="1096.3" y="1777.6" font-size="31.7" fill="#111" transform="rotate(-45 1096.3 1777.6)">Marker</text>
<line x1="178.6" y1="1729.5" x2="292.4" y2="1729.5" stroke="#000" stroke-width="2" />
<line x1="310.4" y1="1729.5" x2="421.8" y2="1729.5" stroke="#000" stroke-width="2" />
<line x1="439.7" y1="1729.5" x2="543.8" y2="1729.5" stroke="#000" stroke-width="2" />
<line x1="561.3" y1="1729.5" x2="672.0" y2="1729.5" stroke="#000" stroke-width="2" />
<line x1="690.3" y1="1729.5" x2="801.4" y2="1729.5" stroke="#000" stroke-width="2" />
<line x1="819.7" y1="1729.5" x2="930.4" y2="1729.5" stroke="#000" stroke-width="2" />
<line x1="948.7" y1="1729.5" x2="1060.5" y2="1729.5" stroke="#000" stroke-width="2" />
<text x="206.3" y="1773.0" font-size="36" text-anchor="middle" fill="#111" stroke="#111" stroke-width="0.7">-</text>
<text x="326.9" y="1773.0" font-size="36" text-anchor="middle" fill="#111" stroke="#111" stroke-width="0.7">-</text>
<text x="459.4" y="1773.0" font-size="36" text-anchor="middle" fill="#111" stroke="#111" stroke-width="0.7">-</text>
<text x="580.0" y="1773.0" font-size="36" text-anchor="middle" fill="#111" stroke="#111" stroke-width="0.7">-</text>
<text x="713.2" y="1773.0" font-size="36" text-anchor="middle" fill="#111" stroke="#111" stroke-width="0.7">-</text>
<text x="845.3" y="1773.0" font-size="36" text-anchor="middle" fill="#111" stroke="#111" stroke-width="0.7">-</text>
<text x="966.3" y="1773.0" font-size="36" text-anchor="middle" fill="#111" stroke="#111" stroke-width="0.7">-</text>
<text x="272.4" y="1774.5" font-size="39" text-anchor="middle" fill="#111" stroke="#111" stroke-width="0.9">+</text>
<text x="393.0" y="1774.5" font-size="39" text-anchor="middle" fill="#111" stroke="#111" stroke-width="0.9">+</text>
<text x="525.5" y="1774.5" font-size="39" text-anchor="middle" fill="#111" stroke="#111" stroke-width="0.9">+</text>
<text x="646.4" y="1774.5" font-size="39" text-anchor="middle" fill="#111" stroke="#111" stroke-width="0.9">+</text>
<text x="779.3" y="1774.5" font-size="39" text-anchor="middle" fill="#111" stroke="#111" stroke-width="0.9">+</text>
<text x="911.1" y="1774.5" font-size="39" text-anchor="middle" fill="#111" stroke="#111" stroke-width="0.9">+</text>
<text x="1032.3" y="1774.5" font-size="39" text-anchor="middle" fill="#111" stroke="#111" stroke-width="0.9">+</text>
<text x="1143.8" y="1785.0" font-size="31.3" fill="#111">kDa</text>
<text x="1144.1" y="1833.5" font-size="31.3" fill="#111">53</text>
<text x="1144.1" y="1900.0" font-size="31.3" fill="#111">41</text>
<text x="1144.1" y="1964.3" font-size="31.3" fill="#111">30</text>
<text x="1144.1" y="2035.2" font-size="31.3" fill="#111">22</text>
<text x="1144.1" y="2134.2" font-size="31.3" fill="#111">14</text>
<text x="125.8" y="1900.6" font-size="31.3" text-anchor="end" fill="#111">DHHC9</text>
<line x1="130.0" y1="1892.5" x2="161.7" y2="1892.5" stroke="#000" stroke-width="2.4" />
<text x="125.8" y="2021.5" font-size="31.3" text-anchor="end" fill="#111">NRAS</text>
<line x1="130.0" y1="2010.9" x2="161.7" y2="2010.9" stroke="#000" stroke-width="2.4" />
<text x="125.8" y="2100.9" font-size="31.3" text-anchor="end" fill="#111">GCP16</text>
<line x1="130.0" y1="2091.8" x2="161.7" y2="2091.8" stroke="#000" stroke-width="2.4" />
<text x="124.0" y="2311.2" font-size="31.3" text-anchor="end" fill="#111">DHHC9</text>
<line x1="128.3" y1="2302.4" x2="160.0" y2="2302.4" stroke="#000" stroke-width="2.4" />
<text x="124.0" y="2431.7" font-size="31.3" text-anchor="end" fill="#111">NRAS</text>
<line x1="128.3" y1="2421.2" x2="160.0" y2="2421.2" stroke="#000" stroke-width="2.4" />
<text x="124.0" y="2511.5" font-size="31.3" text-anchor="end" fill="#111">GCP16</text>
<line x1="128.3" y1="2502.0" x2="160.0" y2="2502.0" stroke="#000" stroke-width="2.4" />
<text x="77.0" y="2194.5" font-size="31.3" fill="#111">Lane</text>
<text x="209.8" y="2194.5" font-size="31.3" text-anchor="middle" fill="#111">1</text>
<text x="273.1" y="2194.5" font-size="31.3" text-anchor="middle" fill="#111">2</text>
<text x="335.7" y="2194.5" font-size="31.3" text-anchor="middle" fill="#111">3</text>
<text x="398.9" y="2194.5" font-size="31.3" text-anchor="middle" fill="#111">4</text>
<text x="462.2" y="2194.5" font-size="31.3" text-anchor="middle" fill="#111">5</text>
<text x="525.5" y="2194.5" font-size="31.3" text-anchor="middle" fill="#111">6</text>
<text x="587.7" y="2194.5" font-size="31.3" text-anchor="middle" fill="#111">7</text>
<text x="651.0" y="2194.5" font-size="31.3" text-anchor="middle" fill="#111">8</text>
<text x="714.2" y="2194.5" font-size="31.3" text-anchor="middle" fill="#111">9</text>
<text x="777.5" y="2194.5" font-size="31.3" text-anchor="middle" fill="#111">10</text>
<text x="847.1" y="2194.5" font-size="31.3" text-anchor="middle" fill="#111">11</text>
<text x="909.3" y="2194.5" font-size="31.3" text-anchor="middle" fill="#111">12</text>
<text x="971.9" y="2194.5" font-size="31.3" text-anchor="middle" fill="#111">13</text>
<text x="1034.1" y="2194.5" font-size="31.3" text-anchor="middle" fill="#111">14</text>
<defs>
<clipPath id="g1clip"><rect x="170.1" y="1796.2" width="965.8" height="358.4"/></clipPath>
<clipPath id="g2clip"><rect x="169.1" y="2206.1" width="965.2" height="359.2"/></clipPath>
<linearGradient id="g1bg" x1="0" y1="0" x2="0" y2="1">
<stop offset="0" stop-color="#6d6d6d"/><stop offset="0.2" stop-color="#676767"/><stop offset="0.55" stop-color="#626262"/><stop offset="0.85" stop-color="#646464"/><stop offset="1" stop-color="#686868"/></linearGradient>
<linearGradient id="g1h" x1="0" y1="0" x2="1" y2="0">
<stop offset="0" stop-color="#fff" stop-opacity="0.07"/><stop offset="0.07" stop-color="#fff" stop-opacity="0.04"/><stop offset="0.2" stop-color="#fff" stop-opacity="0.0"/><stop offset="0.89" stop-color="#fff" stop-opacity="0.0"/><stop offset="0.955" stop-color="#fff" stop-opacity="0.12"/><stop offset="1" stop-color="#fff" stop-opacity="0.16"/></linearGradient>
<linearGradient id="g2bg" x1="0" y1="0" x2="0" y2="1">
<stop offset="0" stop-color="#e5e5e5"/><stop offset="0.15" stop-color="#dcdcdc"/><stop offset="0.33" stop-color="#cdcdcd"/><stop offset="0.45" stop-color="#c2c2c2"/><stop offset="0.55" stop-color="#b6b6b6"/><stop offset="0.75" stop-color="#b1b1b1"/><stop offset="0.88" stop-color="#b9b9b9"/><stop offset="0.96" stop-color="#b2b2b2"/><stop offset="1" stop-color="#a4a4a4"/></linearGradient>
<filter id="grain" x="0" y="0" width="100%" height="100%" color-interpolation-filters="sRGB"><feTurbulence type="fractalNoise" baseFrequency="0.14" numOctaves="2" seed="7"/><feColorMatrix type="matrix" values="2.2 0 0 0 -0.6  2.2 0 0 0 -0.6  2.2 0 0 0 -0.6  0 0 0 0 1"/></filter>
<filter id="b2" x="-30%" y="-150%" width="160%" height="400%"><feGaussianBlur stdDeviation="2.4"/></filter>
<filter id="b3" x="-30%" y="-150%" width="160%" height="400%"><feGaussianBlur stdDeviation="3.4"/></filter>
<filter id="b4" x="-30%" y="-100%" width="160%" height="300%"><feGaussianBlur stdDeviation="4.2"/></filter>
<filter id="b5" x="-30%" y="-100%" width="160%" height="300%"><feGaussianBlur stdDeviation="5.5"/></filter>
<filter id="b9" x="-40%" y="-100%" width="180%" height="300%"><feGaussianBlur stdDeviation="9"/></filter>
<filter id="b14" x="-50%" y="-100%" width="200%" height="300%"><feGaussianBlur stdDeviation="14"/></filter>
</defs>
<g clip-path="url(#g1clip)">
<rect x="170.1" y="1796.2" width="965.8" height="358.4" fill="url(#g1bg)" stroke="none" stroke-width="1" />
<rect x="170.1" y="1796.2" width="965.8" height="358.4" fill="url(#g1h)" stroke="none" stroke-width="1" />
<rect x="192.0" y="1892.3" width="46" height="8.4" rx="3.5" fill="#101010" opacity="0.42" filter="url(#b2)"/>
<rect x="254.0" y="1894.8" width="46" height="8.4" rx="3.5" fill="#101010" opacity="0.68" filter="url(#b2)"/>
<rect x="317.0" y="1894.8" width="46" height="8.4" rx="3.5" fill="#101010" opacity="0.30" filter="url(#b2)"/>
<rect x="379.0" y="1894.8" width="46" height="8.4" rx="3.5" fill="#101010" opacity="0.88" filter="url(#b2)"/>
<rect x="441.5" y="1894.8" width="46" height="8.4" rx="3.5" fill="#101010" opacity="0.45" filter="url(#b2)"/>
<rect x="503.0" y="1894.8" width="46" height="8.4" rx="3.5" fill="#101010" opacity="0.72" filter="url(#b2)"/>
<rect x="566.0" y="1894.8" width="46" height="8.4" rx="3.5" fill="#101010" opacity="0.72" filter="url(#b2)"/>
<rect x="629.7" y="1894.8" width="46" height="8.4" rx="3.5" fill="#101010" opacity="0.60" filter="url(#b2)"/>
<rect x="693.0" y="1894.8" width="46" height="8.4" rx="3.5" fill="#101010" opacity="0.60" filter="url(#b2)"/>
<rect x="756.3" y="1894.8" width="46" height="8.4" rx="3.5" fill="#101010" opacity="0.72" filter="url(#b2)"/>
<rect x="821.0" y="1894.8" width="46" height="8.4" rx="3.5" fill="#101010" opacity="0.78" filter="url(#b2)"/>
<rect x="884.0" y="1894.8" width="46" height="8.4" rx="3.5" fill="#101010" opacity="0.72" filter="url(#b2)"/>
<rect x="947.3" y="1894.8" width="46" height="8.4" rx="3.5" fill="#101010" opacity="0.75" filter="url(#b2)"/>
<rect x="1011.8" y="1894.8" width="46" height="8.4" rx="3.5" fill="#101010" opacity="0.72" filter="url(#b2)"/>
<path d="M180 2009 Q198 2025.5 227 2027" stroke="#0a0a0a" stroke-width="8" fill="none" opacity="0.66" filter="url(#b2)" stroke-linecap="round"/>
<ellipse cx="205.0" cy="2036.5" rx="22" ry="9" fill="#222" opacity="0.11" filter="url(#b5)"/>
<path d="M250.0 2025.9 Q271.0 2031.1 292.0 2025.9" stroke="#0a0a0a" stroke-width="9.8" fill="none" opacity="0.40" filter="url(#b2)" stroke-linecap="round"/>
<ellipse cx="271.0" cy="2036.5" rx="22" ry="9" fill="#222" opacity="0.06" filter="url(#b5)"/>
<path d="M315.5 2025.9 Q336.5 2031.1 357.5 2025.9" stroke="#0a0a0a" stroke-width="9.8" fill="none" opacity="0.66" filter="url(#b2)" stroke-linecap="round"/>
<ellipse cx="336.5" cy="2036.5" rx="22" ry="9" fill="#222" opacity="0.11" filter="url(#b5)"/>
<path d="M379.3 2025.9 Q400.3 2031.1 421.3 2025.9" stroke="#0a0a0a" stroke-width="9.8" fill="none" opacity="0.34" filter="url(#b2)" stroke-linecap="round"/>
<ellipse cx="400.3" cy="2036.5" rx="22" ry="9" fill="#222" opacity="0.05" filter="url(#b5)"/>
<path d="M442.6 2025.9 Q463.6 2031.1 484.6 2025.9" stroke="#0a0a0a" stroke-width="9.8" fill="none" opacity="0.82" filter="url(#b2)" stroke-linecap="round"/>
<ellipse cx="463.6" cy="2036.5" rx="22" ry="9" fill="#222" opacity="0.13" filter="url(#b5)"/>
<path d="M505.0 2025.9 Q526.0 2031.1 547.0 2025.9" stroke="#0a0a0a" stroke-width="9.8" fill="none" opacity="0.36" filter="url(#b2)" stroke-linecap="round"/>
<ellipse cx="526.0" cy="2036.5" rx="22" ry="9" fill="#222" opacity="0.06" filter="url(#b5)"/>
<path d="M567.7 2025.9 Q588.7 2031.1 609.7 2025.9" stroke="#0a0a0a" stroke-width="9.8" fill="none" opacity="0.75" filter="url(#b2)" stroke-linecap="round"/>
<ellipse cx="588.7" cy="2036.5" rx="22" ry="9" fill="#222" opacity="0.12" filter="url(#b5)"/>
<path d="M631.7 2025.9 Q652.7 2031.1 673.7 2025.9" stroke="#0a0a0a" stroke-width="9.8" fill="none" opacity="0.28" filter="url(#b2)" stroke-linecap="round"/>
<ellipse cx="652.7" cy="2036.5" rx="22" ry="9" fill="#222" opacity="0.04" filter="url(#b5)"/>
<path d="M695.0 2025.9 Q716.0 2031.1 737.0 2025.9" stroke="#0a0a0a" stroke-width="9.8" fill="none" opacity="0.88" filter="url(#b2)" stroke-linecap="round"/>
<ellipse cx="716.0" cy="2036.5" rx="22" ry="9" fill="#222" opacity="0.14" filter="url(#b5)"/>
<path d="M758.5 2025.9 Q779.5 2031.1 800.5 2025.9" stroke="#0a0a0a" stroke-width="9.8" fill="none" opacity="0.40" filter="url(#b2)" stroke-linecap="round"/>
<ellipse cx="779.5" cy="2036.5" rx="22" ry="9" fill="#222" opacity="0.06" filter="url(#b5)"/>
<path d="M822.8 2025.9 Q843.8 2031.1 864.8 2025.9" stroke="#0a0a0a" stroke-width="9.8" fill="none" opacity="0.70" filter="url(#b2)" stroke-linecap="round"/>
<ellipse cx="843.8" cy="2036.5" rx="22" ry="9" fill="#222" opacity="0.11" filter="url(#b5)"/>
<path d="M886.0 2025.9 Q907.0 2031.1 928.0 2025.9" stroke="#0a0a0a" stroke-width="9.8" fill="none" opacity="0.28" filter="url(#b2)" stroke-linecap="round"/>
<ellipse cx="907.0" cy="2036.5" rx="22" ry="9" fill="#222" opacity="0.04" filter="url(#b5)"/>
<path d="M950.5 2025.9 Q971.5 2031.1 992.5 2025.9" stroke="#0a0a0a" stroke-width="9.8" fill="none" opacity="0.80" filter="url(#b2)" stroke-linecap="round"/>
<ellipse cx="971.5" cy="2036.5" rx="22" ry="9" fill="#222" opacity="0.13" filter="url(#b5)"/>
<path d="M1017.0 2025.9 Q1038.0 2031.1 1059.0 2025.9" stroke="#0a0a0a" stroke-width="9.8" fill="none" opacity="0.28" filter="url(#b2)" stroke-linecap="round"/>
<ellipse cx="1038.0" cy="2036.5" rx="22" ry="9" fill="#222" opacity="0.04" filter="url(#b5)"/>
<path d="M180 2082 Q200 2092 226 2093.5" stroke="#222" stroke-width="5" fill="none" opacity="0.14" filter="url(#b2)"/>
<rect x="315.5" y="2095.5" width="42" height="6" rx="3" fill="#1a1a1a" opacity="0.15" filter="url(#b2)"/>
<rect x="442.6" y="2095.5" width="42" height="6" rx="3" fill="#1a1a1a" opacity="0.20" filter="url(#b2)"/>
<rect x="567.7" y="2095.5" width="42" height="6" rx="3" fill="#1a1a1a" opacity="0.18" filter="url(#b2)"/>
<rect x="695.0" y="2095.5" width="42" height="6" rx="3" fill="#1a1a1a" opacity="0.24" filter="url(#b2)"/>
<rect x="822.8" y="2095.5" width="42" height="6" rx="3" fill="#1a1a1a" opacity="0.17" filter="url(#b2)"/>
<rect x="950.5" y="2095.5" width="42" height="6" rx="3" fill="#1a1a1a" opacity="0.16" filter="url(#b2)"/>
<line x1="1072.8" y1="1829.4" x2="1102.8" y2="1821.4" stroke="#e8e8e8" stroke-width="7" stroke-linecap="round" opacity="0.16" filter="url(#b3)"/>
<line x1="1076.4" y1="1894.7" x2="1106.4" y2="1886.7" stroke="#e8e8e8" stroke-width="7" stroke-linecap="round" opacity="0.13" filter="url(#b3)"/>
<line x1="1082.7" y1="1957.3" x2="1112.7" y2="1949.3" stroke="#e8e8e8" stroke-width="6" stroke-linecap="round" opacity="0.18" filter="url(#b3)"/>
<line x1="1087.0" y1="2031.6" x2="1121.0" y2="2023.6" stroke="#e8e8e8" stroke-width="9.5" stroke-linecap="round" opacity="0.26" filter="url(#b3)"/>
<line x1="1097.3" y1="2129.6" x2="1125.3" y2="2121.6" stroke="#e8e8e8" stroke-width="6" stroke-linecap="round" opacity="0.16" filter="url(#b3)"/>
<rect x="170.1" y="1796.2" width="965.8" height="358.4" filter="url(#grain)" style="mix-blend-mode:soft-light" opacity="0.045"/>
</g>
<g clip-path="url(#g2clip)">
<rect x="169.1" y="2206.1" width="965.2" height="359.2" fill="url(#g2bg)" stroke="none" stroke-width="1" />
<rect x="182.0" y="2225" width="46" height="195" fill="#707070" opacity="0.15" filter="url(#b5)"/>
<rect x="248.0" y="2225" width="46" height="195" fill="#707070" opacity="0.15" filter="url(#b5)"/>
<rect x="313.5" y="2225" width="46" height="195" fill="#707070" opacity="0.15" filter="url(#b5)"/>
<rect x="377.3" y="2225" width="46" height="195" fill="#707070" opacity="0.15" filter="url(#b5)"/>
<rect x="440.6" y="2225" width="46" height="195" fill="#707070" opacity="0.15" filter="url(#b5)"/>
<rect x="503.0" y="2225" width="46" height="195" fill="#707070" opacity="0.15" filter="url(#b5)"/>
<rect x="565.7" y="2225" width="46" height="195" fill="#707070" opacity="0.15" filter="url(#b5)"/>
<rect x="629.7" y="2225" width="46" height="195" fill="#707070" opacity="0.15" filter="url(#b5)"/>
<rect x="693.0" y="2225" width="46" height="195" fill="#707070" opacity="0.15" filter="url(#b5)"/>
<rect x="756.5" y="2225" width="46" height="195" fill="#707070" opacity="0.15" filter="url(#b5)"/>
<rect x="820.8" y="2225" width="46" height="195" fill="#707070" opacity="0.15" filter="url(#b5)"/>
<rect x="884.0" y="2225" width="46" height="195" fill="#707070" opacity="0.15" filter="url(#b5)"/>
<rect x="948.5" y="2225" width="46" height="195" fill="#707070" opacity="0.15" filter="url(#b5)"/>
<rect x="1015.0" y="2225" width="46" height="195" fill="#707070" opacity="0.15" filter="url(#b5)"/>
<path d="M1066 2190 L1102 2190 L1130 2580 L1088 2580 Z" fill="#505050" opacity="0.36" filter="url(#b4)"/>
<rect x="1128" y="2200" width="12" height="370" fill="#fff" opacity="0.25" filter="url(#b4)"/>
<ellipse cx="205.0" cy="2424" rx="29" ry="30" fill="#303030" opacity="0.4" filter="url(#b14)"/>
<ellipse cx="271.0" cy="2424" rx="29" ry="30" fill="#303030" opacity="0.4" filter="url(#b14)"/>
<ellipse cx="336.5" cy="2424" rx="29" ry="30" fill="#303030" opacity="0.4" filter="url(#b14)"/>
<ellipse cx="400.3" cy="2424" rx="29" ry="30" fill="#303030" opacity="0.4" filter="url(#b14)"/>
<ellipse cx="463.6" cy="2424" rx="29" ry="30" fill="#303030" opacity="0.4" filter="url(#b14)"/>
<ellipse cx="526.0" cy="2424" rx="29" ry="30" fill="#303030" opacity="0.4" filter="url(#b14)"/>
<ellipse cx="588.7" cy="2424" rx="29" ry="30" fill="#303030" opacity="0.4" filter="url(#b14)"/>
<ellipse cx="652.7" cy="2424" rx="29" ry="30" fill="#303030" opacity="0.4" filter="url(#b14)"/>
<ellipse cx="716.0" cy="2424" rx="29" ry="30" fill="#303030" opacity="0.4" filter="url(#b14)"/>
<ellipse cx="779.5" cy="2424" rx="29" ry="30" fill="#303030" opacity="0.4" filter="url(#b14)"/>
<ellipse cx="843.8" cy="2424" rx="29" ry="30" fill="#303030" opacity="0.4" filter="url(#b14)"/>
<ellipse cx="907.0" cy="2424" rx="29" ry="30" fill="#303030" opacity="0.4" filter="url(#b14)"/>
<ellipse cx="971.5" cy="2424" rx="29" ry="30" fill="#303030" opacity="0.4" filter="url(#b14)"/>
<ellipse cx="1038.0" cy="2424" rx="29" ry="30" fill="#303030" opacity="0.4" filter="url(#b14)"/>
<rect x="193.5" y="2303.4" width="45" height="7.2" rx="3.5" fill="#3a3a3a" opacity="0.62" filter="url(#b2)"/>
<rect x="255.5" y="2305.4" width="45" height="7.2" rx="3.5" fill="#3a3a3a" opacity="0.52" filter="url(#b2)"/>
<rect x="318.5" y="2305.4" width="45" height="7.2" rx="3.5" fill="#3a3a3a" opacity="0.60" filter="url(#b2)"/>
<rect x="380.5" y="2305.4" width="45" height="7.2" rx="3.5" fill="#3a3a3a" opacity="0.52" filter="url(#b2)"/>
<rect x="443.0" y="2305.4" width="45" height="7.2" rx="3.5" fill="#3a3a3a" opacity="0.56" filter="url(#b2)"/>
<rect x="504.5" y="2305.4" width="45" height="7.2" rx="3.5" fill="#3a3a3a" opacity="0.52" filter="url(#b2)"/>
<rect x="567.5" y="2305.4" width="45" height="7.2" rx="3.5" fill="#3a3a3a" opacity="0.54" filter="url(#b2)"/>
<rect x="631.2" y="2305.4" width="45" height="7.2" rx="3.5" fill="#3a3a3a" opacity="0.50" filter="url(#b2)"/>
<rect x="694.5" y="2305.4" width="45" height="7.2" rx="3.5" fill="#3a3a3a" opacity="0.52" filter="url(#b2)"/>
<rect x="757.8" y="2305.4" width="45" height="7.2" rx="3.5" fill="#3a3a3a" opacity="0.46" filter="url(#b2)"/>
<rect x="822.5" y="2305.4" width="45" height="7.2" rx="3.5" fill="#3a3a3a" opacity="0.50" filter="url(#b2)"/>
<rect x="885.5" y="2305.4" width="45" height="7.2" rx="3.5" fill="#3a3a3a" opacity="0.50" filter="url(#b2)"/>
<rect x="948.8" y="2305.4" width="45" height="7.2" rx="3.5" fill="#3a3a3a" opacity="0.46" filter="url(#b2)"/>
<rect x="1013.3" y="2305.4" width="45" height="7.2" rx="3.5" fill="#3a3a3a" opacity="0.46" filter="url(#b2)"/>
<rect x="176" y="2424" width="890" height="24" rx="10" fill="#0a0a0a" opacity="0.55" filter="url(#b4)"/>
<path d="M172 2409 Q190 2417 210 2420 L238 2421 L237 2440 Q229 2457 219 2460 Q195 2455 175 2428 Z" fill="#030303" filter="url(#b4)"/>
<ellipse cx="205.0" cy="2456.0" rx="22" ry="9" fill="#1a1a1a" opacity="0.45" filter="url(#b5)"/>
<path d="M240.0 2423.0 Q271.0 2418.0 302.0 2423.0 L301.0 2439.0 Q294.0 2454.0 285.0 2455.0 L257.0 2455.0 Q248.0 2454.0 241.0 2439.0 Z" fill="#030303" filter="url(#b4)"/>
<ellipse cx="271.0" cy="2456.0" rx="22" ry="9" fill="#1a1a1a" opacity="0.45" filter="url(#b5)"/>
<path d="M305.5 2423.0 Q336.5 2418.0 367.5 2423.0 L366.5 2439.0 Q359.5 2454.0 350.5 2455.0 L322.5 2455.0 Q313.5 2454.0 306.5 2439.0 Z" fill="#030303" filter="url(#b4)"/>
<ellipse cx="336.5" cy="2456.0" rx="22" ry="9" fill="#1a1a1a" opacity="0.45" filter="url(#b5)"/>
<path d="M369.3 2423.0 Q400.3 2418.0 431.3 2423.0 L430.3 2439.0 Q423.3 2454.0 414.3 2455.0 L386.3 2455.0 Q377.3 2454.0 370.3 2439.0 Z" fill="#030303" filter="url(#b4)"/>
<ellipse cx="400.3" cy="2456.0" rx="22" ry="9" fill="#1a1a1a" opacity="0.45" filter="url(#b5)"/>
<path d="M432.6 2423.0 Q463.6 2418.0 494.6 2423.0 L493.6 2439.0 Q486.6 2454.0 477.6 2455.0 L449.6 2455.0 Q440.6 2454.0 433.6 2439.0 Z" fill="#030303" filter="url(#b4)"/>
<ellipse cx="463.6" cy="2456.0" rx="22" ry="9" fill="#1a1a1a" opacity="0.45" filter="url(#b5)"/>
<path d="M495.0 2423.0 Q526.0 2418.0 557.0 2423.0 L556.0 2439.0 Q549.0 2454.0 540.0 2455.0 L512.0 2455.0 Q503.0 2454.0 496.0 2439.0 Z" fill="#030303" filter="url(#b4)"/>
<ellipse cx="526.0" cy="2456.0" rx="22" ry="9" fill="#1a1a1a" opacity="0.45" filter="url(#b5)"/>
<path d="M557.7 2423.0 Q588.7 2418.0 619.7 2423.0 L618.7 2439.0 Q611.7 2454.0 602.7 2455.0 L574.7 2455.0 Q565.7 2454.0 558.7 2439.0 Z" fill="#030303" filter="url(#b4)"/>
<ellipse cx="588.7" cy="2456.0" rx="22" ry="9" fill="#1a1a1a" opacity="0.45" filter="url(#b5)"/>
<path d="M621.7 2423.0 Q652.7 2418.0 683.7 2423.0 L682.7 2439.0 Q675.7 2454.0 666.7 2455.0 L638.7 2455.0 Q629.7 2454.0 622.7 2439.0 Z" fill="#030303" filter="url(#b4)"/>
<ellipse cx="652.7" cy="2456.0" rx="22" ry="9" fill="#1a1a1a" opacity="0.45" filter="url(#b5)"/>
<path d="M685.0 2423.0 Q716.0 2418.0 747.0 2423.0 L746.0 2439.0 Q739.0 2454.0 730.0 2455.0 L702.0 2455.0 Q693.0 2454.0 686.0 2439.0 Z" fill="#030303" filter="url(#b4)"/>
<ellipse cx="716.0" cy="2456.0" rx="22" ry="9" fill="#1a1a1a" opacity="0.45" filter="url(#b5)"/>
<path d="M748.5 2423.0 Q779.5 2418.0 810.5 2423.0 L809.5 2439.0 Q802.5 2454.0 793.5 2455.0 L765.5 2455.0 Q756.5 2454.0 749.5 2439.0 Z" fill="#030303" filter="url(#b4)"/>
<ellipse cx="779.5" cy="2456.0" rx="22" ry="9" fill="#1a1a1a" opacity="0.45" filter="url(#b5)"/>
<path d="M812.8 2423.0 Q843.8 2418.0 874.8 2423.0 L873.8 2439.0 Q866.8 2454.0 857.8 2455.0 L829.8 2455.0 Q820.8 2454.0 813.8 2439.0 Z" fill="#030303" filter="url(#b4)"/>
<ellipse cx="843.8" cy="2456.0" rx="22" ry="9" fill="#1a1a1a" opacity="0.45" filter="url(#b5)"/>
<path d="M876.0 2423.0 Q907.0 2418.0 938.0 2423.0 L937.0 2439.0 Q930.0 2454.0 921.0 2455.0 L893.0 2455.0 Q884.0 2454.0 877.0 2439.0 Z" fill="#030303" filter="url(#b4)"/>
<ellipse cx="907.0" cy="2456.0" rx="22" ry="9" fill="#1a1a1a" opacity="0.45" filter="url(#b5)"/>
<path d="M940.5 2423.0 Q971.5 2418.0 1002.5 2423.0 L1001.5 2439.0 Q994.5 2454.0 985.5 2455.0 L957.5 2455.0 Q948.5 2454.0 941.5 2439.0 Z" fill="#030303" filter="url(#b4)"/>
<ellipse cx="971.5" cy="2456.0" rx="22" ry="9" fill="#1a1a1a" opacity="0.45" filter="url(#b5)"/>
<path d="M1007.0 2423.0 Q1038.0 2418.0 1069.0 2423.0 L1068.0 2439.0 Q1061.0 2454.0 1052.0 2455.0 L1024.0 2455.0 Q1015.0 2454.0 1008.0 2439.0 Z" fill="#030303" filter="url(#b4)"/>
<ellipse cx="1038.0" cy="2456.0" rx="22" ry="9" fill="#1a1a1a" opacity="0.45" filter="url(#b5)"/>
<path d="M176 2492 Q198 2508 226 2509" stroke="#404040" stroke-width="6" fill="none" opacity="0.50" filter="url(#b2)"/>
<rect x="248.0" y="2507.3" width="46" height="6.4" rx="3" fill="#404040" opacity="0.12" filter="url(#b2)"/>
<rect x="313.5" y="2507.3" width="46" height="6.4" rx="3" fill="#404040" opacity="0.50" filter="url(#b2)"/>
<rect x="377.3" y="2507.3" width="46" height="6.4" rx="3" fill="#404040" opacity="0.10" filter="url(#b2)"/>
<rect x="440.6" y="2507.3" width="46" height="6.4" rx="3" fill="#404040" opacity="0.50" filter="url(#b2)"/>
<rect x="503.0" y="2507.3" width="46" height="6.4" rx="3" fill="#404040" opacity="0.10" filter="url(#b2)"/>
<rect x="565.7" y="2507.3" width="46" height="6.4" rx="3" fill="#404040" opacity="0.48" filter="url(#b2)"/>
<rect x="629.7" y="2507.3" width="46" height="6.4" rx="3" fill="#404040" opacity="0.10" filter="url(#b2)"/>
<rect x="693.0" y="2507.3" width="46" height="6.4" rx="3" fill="#404040" opacity="0.50" filter="url(#b2)"/>
<rect x="756.5" y="2507.3" width="46" height="6.4" rx="3" fill="#404040" opacity="0.12" filter="url(#b2)"/>
<rect x="820.8" y="2507.3" width="46" height="6.4" rx="3" fill="#404040" opacity="0.50" filter="url(#b2)"/>
<rect x="884.0" y="2507.3" width="46" height="6.4" rx="3" fill="#404040" opacity="0.10" filter="url(#b2)"/>
<rect x="948.5" y="2507.3" width="46" height="6.4" rx="3" fill="#404040" opacity="0.46" filter="url(#b2)"/>
<rect x="1015.0" y="2507.3" width="46" height="6.4" rx="3" fill="#404040" opacity="0.08" filter="url(#b2)"/>
<line x1="1069.3" y1="2235.0" x2="1097.3" y2="2229.0" stroke="#0c0c0c" stroke-width="15" stroke-linecap="round" opacity="0.72" filter="url(#b3)"/>
<line x1="1074.6" y1="2302.0" x2="1102.6" y2="2296.0" stroke="#0c0c0c" stroke-width="15" stroke-linecap="round" opacity="0.78" filter="url(#b3)"/>
<line x1="1079.8" y1="2365.0" x2="1107.8" y2="2359.0" stroke="#0c0c0c" stroke-width="13.5" stroke-linecap="round" opacity="0.92" filter="url(#b3)"/>
<line x1="1086.6" y1="2439.0" x2="1118.6" y2="2433.0" stroke="#0c0c0c" stroke-width="20" stroke-linecap="round" opacity="1" filter="url(#b3)"/>
<line x1="1097.2" y1="2541.0" x2="1122.2" y2="2535.0" stroke="#0c0c0c" stroke-width="12" stroke-linecap="round" opacity="0.85" filter="url(#b3)"/>
<line x1="1094" y1="2478" x2="1118" y2="2472" stroke="#555" stroke-width="7" opacity="0.3" filter="url(#b3)"/>
<line x1="1096" y1="2500" x2="1120" y2="2494" stroke="#555" stroke-width="7" opacity="0.25" filter="url(#b3)"/>
<rect x="169.1" y="2206.1" width="965.2" height="359.2" filter="url(#grain)" style="mix-blend-mode:soft-light" opacity="0.10"/>
</g>
<text x="1242.0" y="1808.3" font-size="66.5" font-weight="bold" fill="#1a1a1a">f</text>
<text x="1280.3" y="2006.7" font-size="33" text-anchor="middle" fill="#000" transform="rotate(-90 1280.3 2006.7)">Relative palmitoylation</text>
<text x="1321.0" y="2007.5" font-size="33" text-anchor="middle" fill="#000" transform="rotate(-90 1321.0 2007.5)">level of NRAS</text>
<line x1="1386.7" y1="1819.4" x2="1405.7" y2="1819.4" stroke="#000" stroke-width="6" />
<text x="1380.3" y="1829.5" font-size="31.3" text-anchor="end" fill="#000">1.5</text>
<line x1="1386.7" y1="1946.3" x2="1405.7" y2="1946.3" stroke="#000" stroke-width="6" />
<text x="1380.3" y="1955.9" font-size="31.3" text-anchor="end" fill="#000">1.0</text>
<line x1="1386.7" y1="2072.7" x2="1405.7" y2="2072.7" stroke="#000" stroke-width="6" />
<text x="1380.3" y="2082.2" font-size="31.3" text-anchor="end" fill="#000">0.5</text>
<line x1="1386.7" y1="2199.4" x2="1405.7" y2="2199.4" stroke="#000" stroke-width="6" />
<text x="1380.3" y="2208.9" font-size="31.3" text-anchor="end" fill="#000">0.0</text>
<path d="M1425.5 2199.4V1989.0H1453.5V2199.4" fill="none" stroke="#8c9ff2" stroke-width="6"/>
<line x1="1439.5" y1="1954.3" x2="1439.5" y2="2017.8" stroke="#8c9ff2" stroke-width="1.5" />
<line x1="1430.5" y1="1954.3" x2="1448.5" y2="1954.3" stroke="#8c9ff2" stroke-width="1.5" />
<line x1="1430.5" y1="2017.8" x2="1448.5" y2="2017.8" stroke="#8c9ff2" stroke-width="1.5" />
<text x="1447.1" y="2192.0" font-size="22" fill="#000" transform="rotate(-90 1447.1 2192.0)">0.84</text>
<circle cx="1439.0" cy="1949.5" r="7.7" fill="#1435e6"/>
<circle cx="1429.5" cy="2007.6" r="7.7" fill="#1435e6"/>
<circle cx="1448.6" cy="2001.3" r="7.7" fill="#1435e6"/>
<path d="M1476.3 2199.4V1940.5H1504.3V2199.4" fill="none" stroke="#f59a8c" stroke-width="6"/>
<line x1="1490.3" y1="1921.0" x2="1490.3" y2="1951.0" stroke="#f59a8c" stroke-width="1.5" />
<line x1="1481.3" y1="1921.0" x2="1499.3" y2="1921.0" stroke="#f59a8c" stroke-width="1.5" />
<line x1="1481.3" y1="1951.0" x2="1499.3" y2="1951.0" stroke="#f59a8c" stroke-width="1.5" />
<text x="1497.9" y="2192.0" font-size="22" fill="#000" transform="rotate(-90 1497.9 2192.0)">1.03</text>
<rect x="1482.4" y="1905.9" width="14.8" height="14.8" fill="#f5300f"/>
<rect x="1482.4" y="1933.2" width="14.8" height="14.8" fill="#f5300f"/>
<rect x="1482.4" y="1951.3" width="14.8" height="14.8" fill="#f5300f"/>
<path d="M1526.8 2199.4V1870.6H1554.8V2199.4" fill="none" stroke="#86e08a" stroke-width="6"/>
<line x1="1540.8" y1="1851.0" x2="1540.8" y2="1884.4" stroke="#86e08a" stroke-width="1.5" />
<line x1="1531.8" y1="1851.0" x2="1549.8" y2="1851.0" stroke="#86e08a" stroke-width="1.5" />
<line x1="1531.8" y1="1884.4" x2="1549.8" y2="1884.4" stroke="#86e08a" stroke-width="1.5" />
<text x="1548.4" y="2192.0" font-size="22" fill="#000" transform="rotate(-90 1548.4 2192.0)">1.31</text>
<path d="M1540.6 1842.0L1548.6 1856.0H1532.6Z" fill="#0ebd12"/>
<path d="M1550.2 1865.8L1558.2 1879.8H1542.2Z" fill="#0ebd12"/>
<path d="M1531.1 1875.4L1539.1 1889.4H1523.1Z" fill="#0ebd12"/>
<path d="M1577.4 2199.4V1915.4H1605.4V2199.4" fill="none" stroke="#dba0f2" stroke-width="6"/>
<line x1="1591.4" y1="1866.3" x2="1591.4" y2="1958.4" stroke="#dba0f2" stroke-width="1.5" />
<line x1="1582.4" y1="1866.3" x2="1600.4" y2="1866.3" stroke="#dba0f2" stroke-width="1.5" />
<line x1="1582.4" y1="1958.4" x2="1600.4" y2="1958.4" stroke="#dba0f2" stroke-width="1.5" />
<text x="1599.0" y="2192.0" font-size="22" fill="#000" transform="rotate(-90 1599.0 2192.0)">1.13</text>
<path d="M1591.4 1864.5L1597.8 1876.2H1585.0Z" fill="#fff" stroke="#b040dc" stroke-width="3.2" stroke-linejoin="miter"/>
<path d="M1591.4 1900.4L1597.8 1912.1H1585.0Z" fill="#fff" stroke="#b040dc" stroke-width="3.2" stroke-linejoin="miter"/>
<path d="M1591.4 1955.9L1597.8 1967.6H1585.0Z" fill="#fff" stroke="#b040dc" stroke-width="3.2" stroke-linejoin="miter"/>
<path d="M1627.9 2199.4V1873.8H1655.9V2199.4" fill="none" stroke="#fbcb8c" stroke-width="6"/>
<line x1="1641.9" y1="1842.5" x2="1641.9" y2="1899.7" stroke="#fbcb8c" stroke-width="1.5" />
<line x1="1632.9" y1="1842.5" x2="1650.9" y2="1842.5" stroke="#fbcb8c" stroke-width="1.5" />
<line x1="1632.9" y1="1899.7" x2="1650.9" y2="1899.7" stroke="#fbcb8c" stroke-width="1.5" />
<text x="1649.5" y="2192.0" font-size="22" fill="#000" transform="rotate(-90 1649.5 2192.0)">1.30</text>
<path d="M1632.7 1845.0L1639.7 1852.0L1632.7 1859.0L1625.7 1852.0Z" fill="#ff9a12"/>
<path d="M1651.7 1850.5L1658.7 1857.5L1651.7 1864.5L1644.7 1857.5Z" fill="#ff9a12"/>
<path d="M1642.2 1897.1L1649.2 1904.1L1642.2 1911.1L1635.2 1904.1Z" fill="#ff9a12"/>
<path d="M1678.7 2199.4V1940.5H1706.7V2199.4" fill="none" stroke="#808080" stroke-width="6"/>
<line x1="1692.7" y1="1907.3" x2="1692.7" y2="1968.0" stroke="#555" stroke-width="1.5" />
<line x1="1683.7" y1="1907.3" x2="1701.7" y2="1907.3" stroke="#555" stroke-width="1.5" />
<line x1="1683.7" y1="1968.0" x2="1701.7" y2="1968.0" stroke="#555" stroke-width="1.5" />
<text x="1700.3" y="2192.0" font-size="22" fill="#000" transform="rotate(-90 1700.3 2192.0)">1.03</text>
<path d="M1683.5 1907.4L1690.1 1914.0L1683.5 1920.6L1676.9 1914.0Z" fill="#fff" stroke="#000000" stroke-width="3.4" stroke-linejoin="miter"/>
<path d="M1702.5 1920.7L1709.1 1927.3L1702.5 1933.9L1695.9 1927.3Z" fill="#fff" stroke="#000000" stroke-width="3.4" stroke-linejoin="miter"/>
<path d="M1693.0 1965.1L1699.6 1971.7L1693.0 1978.3L1686.4 1971.7Z" fill="#fff" stroke="#000000" stroke-width="3.4" stroke-linejoin="miter"/>
<path d="M1729.2 2199.4V1947.0H1757.2V2199.4" fill="none" stroke="#d4ba8e" stroke-width="6"/>
<line x1="1743.2" y1="1946.0" x2="1743.2" y2="1946.0" stroke="#d4ba8e" stroke-width="1.5" />
<text x="1750.8" y="2192.0" font-size="22" fill="#000" transform="rotate(-90 1750.8 2192.0)">1.00</text>
<circle cx="1734.4" cy="1946.3" r="7.7" fill="#b07d2c"/>
<circle cx="1743.2" cy="1946.3" r="7.7" fill="#b07d2c"/>
<circle cx="1752.0" cy="1946.3" r="7.7" fill="#b07d2c"/>
<path d="M1813.8 2199.4V2047.6H1841.8V2199.4" fill="none" stroke="#8c9ff2" stroke-width="6"/>
<line x1="1827.8" y1="2031.0" x2="1827.8" y2="2058.0" stroke="#8c9ff2" stroke-width="1.5" />
<line x1="1818.8" y1="2031.0" x2="1836.8" y2="2031.0" stroke="#8c9ff2" stroke-width="1.5" />
<line x1="1818.8" y1="2058.0" x2="1836.8" y2="2058.0" stroke="#8c9ff2" stroke-width="1.5" />
<text x="1835.4" y="2192.0" font-size="22" fill="#000" transform="rotate(-90 1835.4 2192.0)">0.61</text>
<circle cx="1818.6" cy="2035.6" r="7.7" fill="#1435e6"/>
<circle cx="1837.2" cy="2037.7" r="7.7" fill="#1435e6"/>
<circle cx="1827.9" cy="2058.4" r="7.7" fill="#1435e6"/>
<path d="M1864.4 2199.4V2024.2H1892.4V2199.4" fill="none" stroke="#f59a8c" stroke-width="6"/>
<line x1="1878.4" y1="2006.0" x2="1878.4" y2="2036.0" stroke="#f59a8c" stroke-width="1.5" />
<line x1="1869.4" y1="2006.0" x2="1887.4" y2="2006.0" stroke="#f59a8c" stroke-width="1.5" />
<line x1="1869.4" y1="2036.0" x2="1887.4" y2="2036.0" stroke="#f59a8c" stroke-width="1.5" />
<text x="1886.0" y="2192.0" font-size="22" fill="#000" transform="rotate(-90 1886.0 2192.0)">0.71</text>
<rect x="1862.1" y="2001.4" width="14.8" height="14.8" fill="#f5300f"/>
<rect x="1880.2" y="2010.6" width="14.8" height="14.8" fill="#f5300f"/>
<rect x="1870.9" y="2028.7" width="14.8" height="14.8" fill="#f5300f"/>
<path d="M1915.1 2199.4V2019.7H1943.1V2199.4" fill="none" stroke="#86e08a" stroke-width="6"/>
<line x1="1929.1" y1="1994.7" x2="1929.1" y2="2038.5" stroke="#86e08a" stroke-width="1.5" />
<line x1="1920.1" y1="1994.7" x2="1938.1" y2="1994.7" stroke="#86e08a" stroke-width="1.5" />
<line x1="1920.1" y1="2038.5" x2="1938.1" y2="2038.5" stroke="#86e08a" stroke-width="1.5" />
<text x="1936.7" y="2192.0" font-size="22" fill="#000" transform="rotate(-90 1936.7 2192.0)">0.72</text>
<path d="M1920.2 1993.3L1928.2 2007.3H1912.2Z" fill="#0ebd12"/>
<path d="M1938.3 2002.3L1946.3 2016.3H1930.3Z" fill="#0ebd12"/>
<path d="M1929.0 2035.0L1937.0 2049.0H1921.0Z" fill="#0ebd12"/>
<path d="M1965.7 2199.4V2084.7H1993.7V2199.4" fill="none" stroke="#dba0f2" stroke-width="6"/>
<line x1="1979.7" y1="2066.3" x2="1979.7" y2="2096.3" stroke="#dba0f2" stroke-width="1.5" />
<line x1="1970.7" y1="2066.3" x2="1988.7" y2="2066.3" stroke="#dba0f2" stroke-width="1.5" />
<line x1="1970.7" y1="2096.3" x2="1988.7" y2="2096.3" stroke="#dba0f2" stroke-width="1.5" />
<text x="1987.3" y="2192.0" font-size="22" fill="#000" transform="rotate(-90 1987.3 2192.0)">0.47</text>
<path d="M1970.6 2065.4L1977.0 2077.1H1964.2Z" fill="#fff" stroke="#b040dc" stroke-width="3.2" stroke-linejoin="miter"/>
<path d="M1989.2 2070.7L1995.6 2082.4H1982.8Z" fill="#fff" stroke="#b040dc" stroke-width="3.2" stroke-linejoin="miter"/>
<path d="M1979.9 2093.7L1986.3 2105.4H1973.5Z" fill="#fff" stroke="#b040dc" stroke-width="3.2" stroke-linejoin="miter"/>
<path d="M2016.3 2199.4V2022.1H2044.3V2199.4" fill="none" stroke="#fbcb8c" stroke-width="6"/>
<line x1="2030.3" y1="1994.7" x2="2030.3" y2="2042.5" stroke="#fbcb8c" stroke-width="1.5" />
<line x1="2021.3" y1="1994.7" x2="2039.3" y2="1994.7" stroke="#fbcb8c" stroke-width="1.5" />
<line x1="2021.3" y1="2042.5" x2="2039.3" y2="2042.5" stroke="#fbcb8c" stroke-width="1.5" />
<text x="2037.9" y="2192.0" font-size="22" fill="#000" transform="rotate(-90 2037.9 2192.0)">0.71</text>
<path d="M2021.3 1991.7L2028.3 1998.7L2021.3 2005.7L2014.3 1998.7Z" fill="#ff9a12"/>
<path d="M2039.6 2006.3L2046.6 2013.3L2039.6 2020.3L2032.6 2013.3Z" fill="#ff9a12"/>
<path d="M2030.3 2038.1L2037.3 2045.1L2030.3 2052.1L2023.3 2045.1Z" fill="#ff9a12"/>
<path d="M2067.1 2199.4V2087.4H2095.1V2199.4" fill="none" stroke="#808080" stroke-width="6"/>
<line x1="2081.1" y1="2069.0" x2="2081.1" y2="2100.0" stroke="#555" stroke-width="1.5" />
<line x1="2072.1" y1="2069.0" x2="2090.1" y2="2069.0" stroke="#555" stroke-width="1.5" />
<line x1="2072.1" y1="2100.0" x2="2090.1" y2="2100.0" stroke="#555" stroke-width="1.5" />
<text x="2088.7" y="2192.0" font-size="22" fill="#000" transform="rotate(-90 2088.7 2192.0)">0.46</text>
<path d="M2071.5 2065.1L2078.1 2071.7L2071.5 2078.3L2064.9 2071.7Z" fill="#fff" stroke="#000000" stroke-width="3.4" stroke-linejoin="miter"/>
<path d="M2090.0 2073.0L2096.6 2079.6L2090.0 2086.2L2083.4 2079.6Z" fill="#fff" stroke="#000000" stroke-width="3.4" stroke-linejoin="miter"/>
<path d="M2080.7 2094.2L2087.3 2100.8L2080.7 2107.4L2074.1 2100.8Z" fill="#fff" stroke="#000000" stroke-width="3.4" stroke-linejoin="miter"/>
<path d="M2117.7 2199.4V2090.6H2145.7V2199.4" fill="none" stroke="#d4ba8e" stroke-width="6"/>
<line x1="2131.7" y1="2086.0" x2="2131.7" y2="2090.0" stroke="#d4ba8e" stroke-width="1.5" />
<line x1="2122.7" y1="2086.0" x2="2140.7" y2="2086.0" stroke="#d4ba8e" stroke-width="1.5" />
<line x1="2122.7" y1="2090.0" x2="2140.7" y2="2090.0" stroke="#d4ba8e" stroke-width="1.5" />
<text x="2139.3" y="2192.0" font-size="22" fill="#000" transform="rotate(-90 2139.3 2192.0)">0.45</text>
<circle cx="2121.9" cy="2090.2" r="7.7" fill="#b07d2c"/>
<circle cx="2131.9" cy="2084.1" r="7.7" fill="#b07d2c"/>
<circle cx="2141.2" cy="2086.8" r="7.7" fill="#b07d2c"/>
<line x1="1405.7" y1="1816.4" x2="1405.7" y2="2202.4" stroke="#000" stroke-width="6" />
<line x1="1386.7" y1="2199.4" x2="2165.6" y2="2199.4" stroke="#000" stroke-width="6" />
<line x1="1590.8" y1="2199.4" x2="1590.8" y2="2218.8" stroke="#000" stroke-width="6" />
<line x1="1979.4" y1="2199.4" x2="1979.4" y2="2218.8" stroke="#000" stroke-width="6" />
<text x="1591.0" y="2251.8" font-size="31.3" text-anchor="middle" fill="#000">Not washed</text>
<text x="1979.5" y="2251.8" font-size="31.3" text-anchor="middle" fill="#000">Washed with Triton</text>
<line x1="1826.6" y1="1810.3" x2="2139.6" y2="1810.3" stroke="#000" stroke-width="3.8" stroke-linecap="round"/>
<text x="1981.2" y="1816.8" font-size="42" text-anchor="middle" font-weight="bold" fill="#000">**</text>
<line x1="1873.3" y1="1853.8" x2="2139.6" y2="1853.8" stroke="#000" stroke-width="3.8" stroke-linecap="round"/>
<text x="2013.1" y="1860.3" font-size="42" text-anchor="middle" font-weight="bold" fill="#000">**</text>
<line x1="1926.1" y1="1897.6" x2="2139.6" y2="1897.6" stroke="#000" stroke-width="3.8" stroke-linecap="round"/>
<text x="2041.7" y="1904.1" font-size="42" text-anchor="middle" font-weight="bold" fill="#000">**</text>
<line x1="1978.6" y1="1939.0" x2="2139.1" y2="1939.0" stroke="#000" stroke-width="3.8" stroke-linecap="round"/>
<text x="2061.4" y="1931.7" font-size="31.5" text-anchor="middle" fill="#000">ns</text>
<line x1="2029.6" y1="1976.9" x2="2139.1" y2="1976.9" stroke="#000" stroke-width="3.8" stroke-linecap="round"/>
<text x="2085.5" y="1983.4" font-size="42" text-anchor="middle" font-weight="bold" fill="#000">**</text>
<line x1="2083.2" y1="2041.7" x2="2137.7" y2="2041.7" stroke="#000" stroke-width="3.8" stroke-linecap="round"/>
<text x="2112.0" y="2034.4" font-size="31.5" text-anchor="middle" fill="#000">ns</text>
<circle cx="1461.0" cy="2312.3" r="8.1" fill="#1435e6"/>
<text x="1505.4" y="2321.5" font-size="30.3" fill="#000">PA(12:0/12:0 )</text>
<rect x="1453.2" y="2357.8" width="15.5" height="15.5" fill="#f5300f"/>
<text x="1505.4" y="2374.9" font-size="30.3" fill="#000">PA(14:0/14:0)</text>
<path d="M1461.0 2411.0L1469.4 2425.7H1452.6Z" fill="#0ebd12"/>
<text x="1505.4" y="2428.3" font-size="30.3" fill="#000">PA(18:1/18:1)</text>
<path d="M1461.0 2465.6L1467.7 2477.9H1454.3Z" fill="#fff" stroke="#b040dc" stroke-width="3.4" stroke-linejoin="miter"/>
<text x="1505.4" y="2481.7" font-size="30.3" fill="#000">PC(18:1/18:1)</text>
<path d="M1780.9 2305.0L1788.2 2312.3L1780.9 2319.7L1773.6 2312.3Z" fill="#ff9a12"/>
<text x="1825.3" y="2321.5" font-size="30.3" fill="#000">PA(16:0/18:1)</text>
<path d="M1780.9 2358.7L1787.8 2365.6L1780.9 2372.5L1774.0 2365.6Z" fill="#fff" stroke="#000000" stroke-width="3.5" stroke-linejoin="miter"/>
<text x="1825.3" y="2374.9" font-size="30.3" fill="#000">PC(16:0/18:1)</text>
<circle cx="1780.9" cy="2418.9" r="8.1" fill="#b07d2c"/>
<text x="1825.3" y="2428.3" font-size="30.3" fill="#000">Buffer</text>
</svg>
</body></html>
